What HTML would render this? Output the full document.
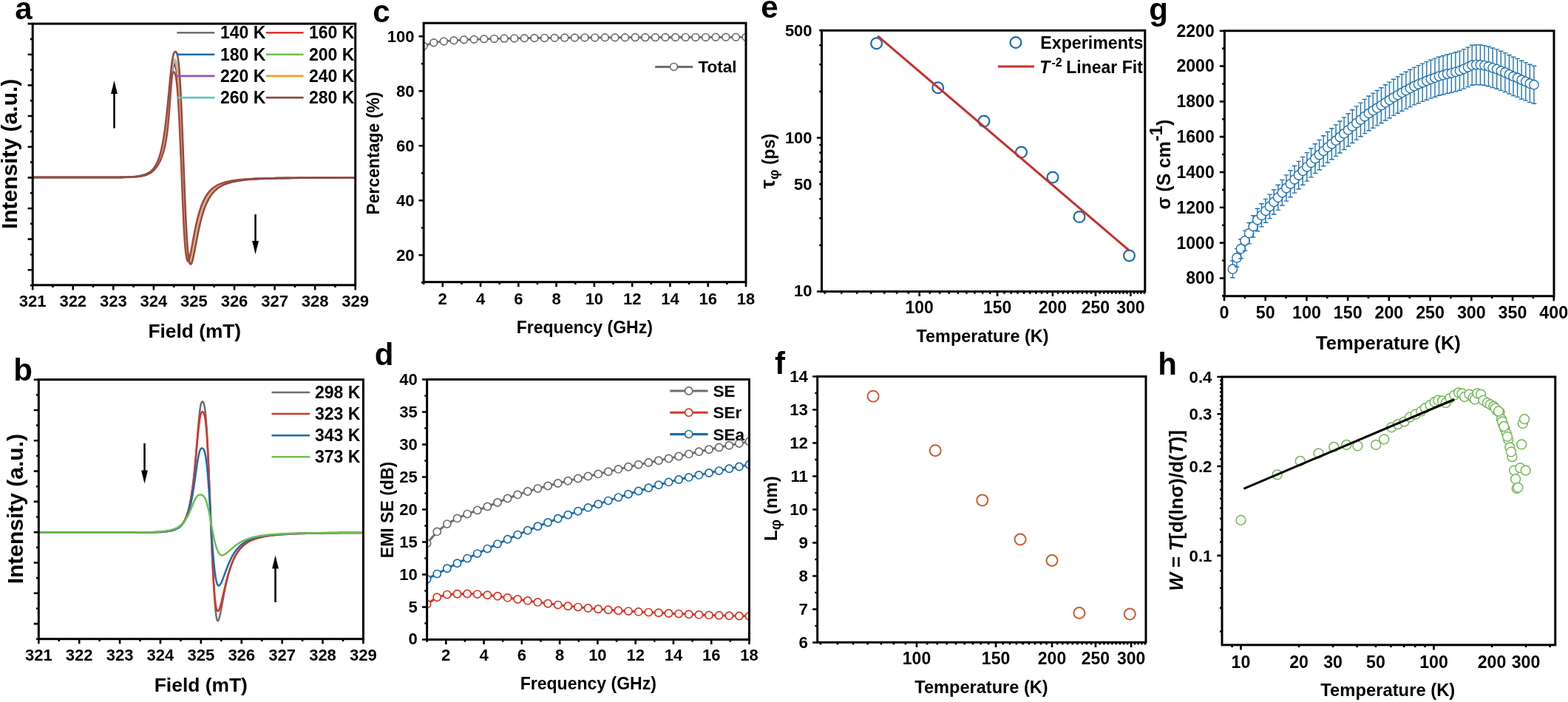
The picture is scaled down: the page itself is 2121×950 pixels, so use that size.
<!DOCTYPE html>
<html lang="en"><head><meta charset="utf-8"><title>Figure</title>
<style>
html,body{margin:0;padding:0;background:#fff;}
body{width:2121px;height:950px;overflow:hidden;}
svg{display:block;font-family:'Liberation Sans', Arial, Helvetica, sans-serif;font-weight:bold;}
text{white-space:pre;}
</style></head><body>
<svg width="2121" height="950" viewBox="0 0 2121 950">
<rect width="2121" height="950" fill="#fff"/>
<defs>
<clipPath id="ca"><rect x="44.2" y="32.1" width="436.5" height="353.7"/></clipPath>
<clipPath id="cc"><rect x="573.1" y="31.2" width="437.4" height="350.5"/></clipPath>
<clipPath id="cd"><rect x="577.6" y="513.5" width="437.4" height="352"/></clipPath>
</defs>
<text x="32" y="26" font-size="42" text-anchor="middle">a</text>
<g clip-path="url(#ca)">
<polyline points="44.2,240.1 49.2,240.1 54.2,240.1 59.2,240.1 64.2,240.1 69.2,240.1 74.2,240.1 79.2,240.1 84.2,240.1 89.2,240.1 94.2,240.1 99.2,240.1 104.2,240.1 109.2,240.1 114.2,240.1 119.2,240.1 124.2,240.1 129.2,240.1 134.2,240.1 139.2,240.1 144.2,240.1 149.2,240.1 154.2,240 159.2,240 164.2,239.9 169.2,239.8 174.2,239.7 179.2,239.4 184.2,239.1 186,238.9 186.5,238.8 187,238.8 187.5,238.7 188,238.6 188.5,238.6 189,238.5 189.5,238.4 190,238.3 190.5,238.3 191,238.2 191.5,238.1 192,238 192.5,237.9 193,237.8 193.5,237.6 194,237.5 194.5,237.4 195,237.3 195.5,237.1 196,237 196.5,236.8 197,236.7 197.5,236.5 198,236.3 198.5,236.1 199,235.9 199.5,235.7 200,235.5 200.5,235.2 201,235 201.5,234.7 202,234.4 202.5,234.1 203,233.8 203.5,233.5 204,233.1 204.5,232.8 205,232.4 205.5,232 206,231.6 206.5,231.1 207,230.6 207.5,230.1 208,229.6 208.5,229 209,228.4 209.5,227.8 210,227.2 210.5,226.5 211,225.8 211.5,225 212,224.2 212.5,223.4 213,222.5 213.5,221.6 214,220.6 214.5,219.5 215,218.5 215.5,217.3 216,216.1 216.5,214.9 217,213.5 217.5,212.1 218,210.7 218.5,209.1 219,207.5 219.5,205.7 220,203.9 220.5,201.9 221,199.8 221.5,197.6 222,195.3 222.5,192.8 223,190.1 223.5,187.2 224,184.1 224.5,180.8 225,177.3 225.5,173.5 226,169.4 226.5,165 227,160.4 227.5,155.4 228,150.1 228.5,144.6 229,138.8 229.5,132.8 230,126.8 230.5,120.7 231,114.8 231.5,109.2 232,104.1 232.5,99.6 233,95.9 233.5,93.1 234,91 234.5,89.7 235,89.1 235.5,88.9 236,89.1 236.5,89.6 237,90.4 237.5,91.5 238,93.1 238.5,95.2 239,97.9 239.5,101.4 240,105.7 240.5,110.8 241,116.9 241.5,124 242,132 242.5,140.9 243,150.7 243.5,161.2 244,172.4 244.5,184.1 245,196.1 245.5,208.3 246,220.6 246.5,232.7 247,245.2 247.5,258.5 248,271.2 248.5,283.1 249,294.2 249.5,304.3 250,313.5 250.5,321.6 251,328.8 251.5,335 252,340.2 252.5,344.5 253,348 253.5,350.6 254,352.5 254.5,353.7 255,354.4 255.5,354.4 256,354 256.5,353.1 257,351.8 257.5,350.2 258,348.3 258.5,346.2 259,343.9 259.5,341.5 260,339 260.5,336.3 261,333.7 261.5,331 262,328.2 262.5,325.5 263,322.8 263.5,320.2 264,317.6 264.5,315 265,312.5 265.5,310 266,307.6 266.5,305.3 267,303 267.5,300.9 268,298.8 268.5,296.7 269,294.7 269.5,292.8 270,291 270.5,289.2 271,287.5 271.5,285.9 272,284.3 272.5,282.8 273,281.4 273.5,280 274,278.6 274.5,277.3 275,276.1 275.5,274.9 276,273.7 276.5,272.6 277,271.6 277.5,270.6 278,269.6 278.5,268.6 279,267.7 279.5,266.9 280,266 280.5,265.2 281,264.5 281.5,263.7 282,263 282.5,262.3 283,261.7 283.5,261 284,260.4 284.5,259.8 285,259.3 285.5,258.7 286,258.2 286.5,257.7 287,257.2 287.5,256.7 288,256.3 288.5,255.8 289,255.4 289.5,255 290,254.6 290.5,254.2 291,253.9 291.5,253.5 292,253.2 292.5,252.8 293,252.5 293.5,252.2 294,251.9 294.5,251.6 295,251.3 295.5,251 296,250.8 296.5,250.5 297,250.3 297.5,250 298,249.8 298.5,249.6 299,249.4 299.5,249.2 300,249 300.5,248.8 301,248.6 301.5,248.4 302,248.2 302.5,248 303,247.9 303.5,247.7 304,247.5 304.5,247.4 305,247.2 305.5,247.1 306,246.9 311,245.7 316,244.7 321,244 326,243.4 331,242.9 336,242.6 341,242.2 346,242 351,241.8 356,241.6 361,241.4 366,241.3 371,241.2 376,241.1 381,241 386,240.9 391,240.8 396,240.8 401,240.7 406,240.7 411,240.6 416,240.6 421,240.6 426,240.5 431,240.5 436,240.5 441,240.5 446,240.4 451,240.4 456,240.4 461,240.4 466,240.4 471,240.3 476,240.3 480.7,240.3" fill="none" stroke="#6e6e6e" stroke-width="2.5" stroke-linejoin="round" stroke-linecap="round"/>
<polyline points="44.2,240.1 49.2,240.1 54.2,240.1 59.2,240.1 64.2,240.1 69.2,240.1 74.2,240.1 79.2,240.1 84.2,240.1 89.2,240.1 94.2,240.1 99.2,240.1 104.2,240.1 109.2,240.1 114.2,240.1 119.2,240.1 124.2,240.1 129.2,240.1 134.2,240.1 139.2,240.1 144.2,240.1 149.2,240.1 154.2,240 159.2,240 164.2,239.9 169.2,239.8 174.2,239.7 179.2,239.4 184.2,239 186,238.8 186.5,238.8 187,238.7 187.5,238.7 188,238.6 188.5,238.5 189,238.4 189.5,238.4 190,238.3 190.5,238.2 191,238.1 191.5,238 192,237.9 192.5,237.8 193,237.7 193.5,237.6 194,237.4 194.5,237.3 195,237.2 195.5,237 196,236.9 196.5,236.7 197,236.6 197.5,236.4 198,236.2 198.5,236 199,235.8 199.5,235.6 200,235.3 200.5,235.1 201,234.8 201.5,234.6 202,234.3 202.5,234 203,233.7 203.5,233.3 204,233 204.5,232.6 205,232.2 205.5,231.8 206,231.4 206.5,230.9 207,230.4 207.5,229.9 208,229.4 208.5,228.8 209,228.2 209.5,227.5 210,226.9 210.5,226.2 211,225.4 211.5,224.6 212,223.8 212.5,223 213,222 213.5,221.1 214,220.1 214.5,219 215,217.9 215.5,216.7 216,215.4 216.5,214.1 217,212.7 217.5,211.3 218,209.7 218.5,208.1 219,206.3 219.5,204.5 220,202.6 220.5,200.5 221,198.3 221.5,196 222,193.5 222.5,190.9 223,188.1 223.5,185.1 224,181.9 224.5,178.5 225,174.8 225.5,170.9 226,166.7 226.5,162.3 227,157.6 227.5,152.6 228,147.3 228.5,141.8 229,136.1 229.5,130.3 230,124.4 230.5,118.5 231,112.8 231.5,107.4 232,102.4 232.5,98 233,94.4 233.5,91.5 234,89.3 234.5,87.9 235,87 235.5,86.7 236,86.8 236.5,87.2 237,87.8 237.5,88.8 238,90.2 238.5,92.1 239,94.6 239.5,97.7 240,101.6 240.5,106.4 241,112.2 241.5,118.8 242,126.5 242.5,135.1 243,144.5 243.5,154.8 244,165.8 244.5,177.4 245,189.4 245.5,201.6 246,214 246.5,226.3 247,238.4 247.5,251.7 248,264.7 248.5,277 249,288.5 249.5,299.1 250,308.8 250.5,317.5 251,325.2 251.5,332 252,337.7 252.5,342.5 253,346.4 253.5,349.5 254,351.9 254.5,353.5 255,354.4 255.5,354.8 256,354.6 256.5,354 257,353 257.5,351.6 258,349.9 258.5,347.9 259,345.7 259.5,343.4 260,340.9 260.5,338.4 261,335.7 261.5,333 262,330.3 262.5,327.6 263,324.9 263.5,322.2 264,319.6 264.5,317 265,314.5 265.5,312 266,309.5 266.5,307.2 267,304.9 267.5,302.7 268,300.5 268.5,298.4 269,296.4 269.5,294.4 270,292.6 270.5,290.7 271,289 271.5,287.3 272,285.7 272.5,284.1 273,282.6 273.5,281.2 274,279.8 274.5,278.5 275,277.2 275.5,276 276,274.8 276.5,273.7 277,272.6 277.5,271.5 278,270.5 278.5,269.5 279,268.6 279.5,267.7 280,266.9 280.5,266 281,265.2 281.5,264.5 282,263.7 282.5,263 283,262.3 283.5,261.7 284,261.1 284.5,260.4 285,259.9 285.5,259.3 286,258.7 286.5,258.2 287,257.7 287.5,257.2 288,256.8 288.5,256.3 289,255.9 289.5,255.4 290,255 290.5,254.6 291,254.3 291.5,253.9 292,253.5 292.5,253.2 293,252.9 293.5,252.6 294,252.2 294.5,251.9 295,251.7 295.5,251.4 296,251.1 296.5,250.8 297,250.6 297.5,250.3 298,250.1 298.5,249.9 299,249.6 299.5,249.4 300,249.2 300.5,249 301,248.8 301.5,248.6 302,248.4 302.5,248.2 303,248.1 303.5,247.9 304,247.7 304.5,247.6 305,247.4 305.5,247.3 306,247.1 311,245.8 316,244.9 321,244.1 326,243.5 331,243 336,242.6 341,242.3 346,242 351,241.8 356,241.6 361,241.4 366,241.3 371,241.2 376,241.1 381,241 386,240.9 391,240.9 396,240.8 401,240.7 406,240.7 411,240.6 416,240.6 421,240.6 426,240.5 431,240.5 436,240.5 441,240.5 446,240.4 451,240.4 456,240.4 461,240.4 466,240.4 471,240.4 476,240.3 480.7,240.3" fill="none" stroke="#1c6cab" stroke-width="2.5" stroke-linejoin="round" stroke-linecap="round"/>
<polyline points="44.2,240.1 49.2,240.1 54.2,240.1 59.2,240.1 64.2,240.1 69.2,240.1 74.2,240.1 79.2,240.1 84.2,240.1 89.2,240.1 94.2,240.1 99.2,240.1 104.2,240.1 109.2,240.1 114.2,240.1 119.2,240.1 124.2,240.1 129.2,240.1 134.2,240.1 139.2,240.1 144.2,240.1 149.2,240.1 154.2,240 159.2,240 164.2,239.9 169.2,239.8 174.2,239.6 179.2,239.4 184.2,239 186,238.8 186.5,238.7 187,238.7 187.5,238.6 188,238.5 188.5,238.5 189,238.4 189.5,238.3 190,238.2 190.5,238.1 191,238 191.5,237.9 192,237.8 192.5,237.7 193,237.6 193.5,237.5 194,237.4 194.5,237.2 195,237.1 195.5,237 196,236.8 196.5,236.6 197,236.5 197.5,236.3 198,236.1 198.5,235.9 199,235.7 199.5,235.5 200,235.2 200.5,235 201,234.7 201.5,234.4 202,234.2 202.5,233.8 203,233.5 203.5,233.2 204,232.8 204.5,232.4 205,232 205.5,231.6 206,231.2 206.5,230.7 207,230.2 207.5,229.7 208,229.1 208.5,228.5 209,227.9 209.5,227.3 210,226.6 210.5,225.9 211,225.1 211.5,224.3 212,223.4 212.5,222.6 213,221.6 213.5,220.6 214,219.6 214.5,218.5 215,217.3 215.5,216.1 216,214.8 216.5,213.4 217,211.9 217.5,210.4 218,208.8 218.5,207.1 219,205.3 219.5,203.3 220,201.3 220.5,199.1 221,196.9 221.5,194.4 222,191.8 222.5,189.1 223,186.2 223.5,183.1 224,179.7 224.5,176.2 225,172.5 225.5,168.5 226,164.2 226.5,159.7 227,154.9 227.5,149.9 228,144.7 228.5,139.2 229,133.6 229.5,127.8 230,122.1 230.5,116.3 231,110.8 231.5,105.5 232,100.7 232.5,96.4 233,92.8 233.5,89.9 234,87.6 234.5,86.1 235,85.1 235.5,84.6 236,84.6 236.5,84.8 237,85.4 237.5,86.2 238,87.4 238.5,89.1 239,91.3 239.5,94.2 240,97.8 240.5,102.2 241,107.5 241.5,113.8 242,121.1 242.5,129.3 243,138.5 243.5,148.5 244,159.2 244.5,170.7 245,182.6 245.5,194.8 246,207.3 246.5,219.8 247,232.1 247.5,244.8 248,258.1 248.5,270.7 249,282.7 249.5,293.7 250,303.9 250.5,313.1 251,321.4 251.5,328.6 252,334.9 252.5,340.2 253,344.7 253.5,348.2 254,351 254.5,353 255,354.3 255.5,355 256,355.2 256.5,354.8 257,354 257.5,352.8 258,351.3 258.5,349.5 259,347.4 259.5,345.2 260,342.8 260.5,340.3 261,337.7 261.5,335.1 262,332.4 262.5,329.7 263,327 263.5,324.3 264,321.7 264.5,319 265,316.5 265.5,313.9 266,311.5 266.5,309.1 267,306.7 267.5,304.5 268,302.3 268.5,300.1 269,298.1 269.5,296.1 270,294.1 270.5,292.3 271,290.5 271.5,288.8 272,287.1 272.5,285.5 273,284 273.5,282.5 274,281.1 274.5,279.7 275,278.4 275.5,277.1 276,275.9 276.5,274.7 277,273.6 277.5,272.5 278,271.5 278.5,270.5 279,269.5 279.5,268.6 280,267.7 280.5,266.8 281,266 281.5,265.2 282,264.5 282.5,263.7 283,263 283.5,262.4 284,261.7 284.5,261.1 285,260.5 285.5,259.9 286,259.3 286.5,258.8 287,258.3 287.5,257.8 288,257.3 288.5,256.8 289,256.3 289.5,255.9 290,255.5 290.5,255.1 291,254.7 291.5,254.3 292,253.9 292.5,253.6 293,253.3 293.5,252.9 294,252.6 294.5,252.3 295,252 295.5,251.7 296,251.4 296.5,251.2 297,250.9 297.5,250.6 298,250.4 298.5,250.1 299,249.9 299.5,249.7 300,249.5 300.5,249.3 301,249.1 301.5,248.9 302,248.7 302.5,248.5 303,248.3 303.5,248.1 304,248 304.5,247.8 305,247.6 305.5,247.5 306,247.3 311,246 316,245 321,244.2 326,243.6 331,243.1 336,242.7 341,242.3 346,242.1 351,241.8 356,241.6 361,241.5 366,241.3 371,241.2 376,241.1 381,241 386,240.9 391,240.9 396,240.8 401,240.7 406,240.7 411,240.7 416,240.6 421,240.6 426,240.5 431,240.5 436,240.5 441,240.5 446,240.4 451,240.4 456,240.4 461,240.4 466,240.4 471,240.4 476,240.3 480.7,240.3" fill="none" stroke="#6fbf4f" stroke-width="2.5" stroke-linejoin="round" stroke-linecap="round"/>
<polyline points="44.2,240.1 49.2,240.1 54.2,240.1 59.2,240.1 64.2,240.1 69.2,240.1 74.2,240.1 79.2,240.1 84.2,240.1 89.2,240.1 94.2,240.1 99.2,240.1 104.2,240.1 109.2,240.1 114.2,240.1 119.2,240.1 124.2,240.1 129.2,240.1 134.2,240.1 139.2,240.1 144.2,240.1 149.2,240.1 154.2,240 159.2,240 164.2,239.9 169.2,239.8 174.2,239.7 179.2,239.4 184.2,239 186,238.8 186.5,238.8 187,238.7 187.5,238.6 188,238.6 188.5,238.5 189,238.4 189.5,238.3 190,238.3 190.5,238.2 191,238.1 191.5,238 192,237.9 192.5,237.8 193,237.7 193.5,237.5 194,237.4 194.5,237.3 195,237.1 195.5,237 196,236.8 196.5,236.7 197,236.5 197.5,236.3 198,236.1 198.5,235.9 199,235.7 199.5,235.5 200,235.3 200.5,235 201,234.8 201.5,234.5 202,234.2 202.5,233.9 203,233.6 203.5,233.3 204,232.9 204.5,232.5 205,232.1 205.5,231.7 206,231.3 206.5,230.8 207,230.3 207.5,229.8 208,229.2 208.5,228.7 209,228.1 209.5,227.4 210,226.7 210.5,226 211,225.3 211.5,224.5 212,223.6 212.5,222.7 213,221.8 213.5,220.8 214,219.8 214.5,218.7 215,217.6 215.5,216.4 216,215.1 216.5,213.7 217,212.3 217.5,210.8 218,209.2 218.5,207.6 219,205.8 219.5,203.9 220,201.9 220.5,199.8 221,197.6 221.5,195.2 222,192.7 222.5,190 223,187.1 223.5,184.1 224,180.8 224.5,177.3 225,173.6 225.5,169.7 226,165.5 226.5,161 227,156.2 227.5,151.2 228,146 228.5,140.5 229,134.8 229.5,129 230,123.2 230.5,117.4 231,111.8 231.5,106.4 232,101.6 232.5,97.2 233,93.6 233.5,90.7 234,88.5 234.5,87 235,86.1 235.5,85.7 236,85.7 236.5,86 237,86.6 237.5,87.5 238,88.8 238.5,90.6 239,92.9 239.5,95.9 240,99.7 240.5,104.3 241,109.8 241.5,116.3 242,123.8 242.5,132.2 243,141.5 243.5,151.6 244,162.5 244.5,174 245,186 245.5,198.3 246,210.7 246.5,223.1 247,235.3 247.5,248.3 248,261.4 248.5,273.9 249,285.6 249.5,296.5 250,306.4 250.5,315.4 251,323.3 251.5,330.3 252,336.3 252.5,341.4 253,345.6 253.5,348.9 254,351.4 254.5,353.2 255,354.4 255.5,354.9 256,354.9 256.5,354.4 257,353.5 257.5,352.2 258,350.6 258.5,348.7 259,346.6 259.5,344.3 260,341.9 260.5,339.3 261,336.7 261.5,334.1 262,331.4 262.5,328.7 263,326 263.5,323.3 264,320.6 264.5,318 265,315.5 265.5,313 266,310.5 266.5,308.1 267,305.8 267.5,303.6 268,301.4 268.5,299.3 269,297.2 269.5,295.2 270,293.3 270.5,291.5 271,289.7 271.5,288 272,286.4 272.5,284.8 273,283.3 273.5,281.8 274,280.4 274.5,279.1 275,277.8 275.5,276.5 276,275.3 276.5,274.2 277,273.1 277.5,272 278,271 278.5,270 279,269.1 279.5,268.1 280,267.3 280.5,266.4 281,265.6 281.5,264.8 282,264.1 282.5,263.4 283,262.7 283.5,262 284,261.4 284.5,260.8 285,260.2 285.5,259.6 286,259 286.5,258.5 287,258 287.5,257.5 288,257 288.5,256.6 289,256.1 289.5,255.7 290,255.3 290.5,254.9 291,254.5 291.5,254.1 292,253.7 292.5,253.4 293,253.1 293.5,252.7 294,252.4 294.5,252.1 295,251.8 295.5,251.5 296,251.3 296.5,251 297,250.7 297.5,250.5 298,250.2 298.5,250 299,249.8 299.5,249.6 300,249.3 300.5,249.1 301,248.9 301.5,248.7 302,248.5 302.5,248.4 303,248.2 303.5,248 304,247.8 304.5,247.7 305,247.5 305.5,247.4 306,247.2 311,245.9 316,244.9 321,244.2 326,243.5 331,243 336,242.6 341,242.3 346,242 351,241.8 356,241.6 361,241.5 366,241.3 371,241.2 376,241.1 381,241 386,240.9 391,240.9 396,240.8 401,240.7 406,240.7 411,240.6 416,240.6 421,240.6 426,240.5 431,240.5 436,240.5 441,240.5 446,240.4 451,240.4 456,240.4 461,240.4 466,240.4 471,240.4 476,240.3 480.7,240.3" fill="none" stroke="#9a4fb5" stroke-width="2.5" stroke-linejoin="round" stroke-linecap="round"/>
<polyline points="44.2,240.1 49.2,240.1 54.2,240.1 59.2,240.1 64.2,240.1 69.2,240.1 74.2,240.1 79.2,240.1 84.2,240.1 89.2,240.1 94.2,240.1 99.2,240.1 104.2,240.1 109.2,240.1 114.2,240.1 119.2,240.1 124.2,240.1 129.2,240.1 134.2,240.1 139.2,240.1 144.2,240.1 149.2,240.1 154.2,240 159.2,240 164.2,239.9 169.2,239.8 174.2,239.6 179.2,239.3 184.2,238.9 186,238.7 186.5,238.6 187,238.6 187.5,238.5 188,238.4 188.5,238.4 189,238.3 189.5,238.2 190,238.1 190.5,238 191,237.9 191.5,237.8 192,237.7 192.5,237.6 193,237.5 193.5,237.4 194,237.2 194.5,237.1 195,236.9 195.5,236.8 196,236.6 196.5,236.5 197,236.3 197.5,236.1 198,235.9 198.5,235.7 199,235.5 199.5,235.2 200,235 200.5,234.7 201,234.5 201.5,234.2 202,233.9 202.5,233.6 203,233.2 203.5,232.9 204,232.5 204.5,232.1 205,231.7 205.5,231.3 206,230.8 206.5,230.3 207,229.8 207.5,229.2 208,228.7 208.5,228.1 209,227.4 209.5,226.7 210,226 210.5,225.3 211,224.5 211.5,223.6 212,222.7 212.5,221.8 213,220.8 213.5,219.7 214,218.6 214.5,217.4 215,216.2 215.5,214.9 216,213.5 216.5,212 217,210.4 217.5,208.8 218,207 218.5,205.2 219,203.2 219.5,201.1 220,198.9 220.5,196.6 221,194.1 221.5,191.5 222,188.7 222.5,185.8 223,182.6 223.5,179.3 224,175.8 224.5,172 225,168.1 225.5,163.9 226,159.5 226.5,154.9 227,150 227.5,145 228,139.7 228.5,134.3 229,128.8 229.5,123.2 230,117.7 230.5,112.2 231,106.9 231.5,101.9 232,97.3 232.5,93.2 233,89.6 233.5,86.6 234,84.3 234.5,82.5 235,81.3 235.5,80.5 236,80.2 236.5,80.2 237,80.5 237.5,81.1 238,82 238.5,83.3 239,85.1 239.5,87.4 240,90.4 240.5,94.2 241,98.8 241.5,104.3 242,110.8 242.5,118.2 243,126.6 243.5,136 244,146.2 244.5,157.2 245,168.9 245.5,181 246,193.5 246.5,206.2 247,219 247.5,231.6 248,244.3 248.5,257.6 249,270.2 249.5,282.2 250,293.3 250.5,303.5 251,312.8 251.5,321.1 252,328.5 252.5,334.8 253,340.3 253.5,344.8 254,348.4 254.5,351.3 255,353.4 255.5,354.8 256,355.6 256.5,355.9 257,355.6 257.5,354.9 258,353.8 258.5,352.4 259,350.6 259.5,348.7 260,346.5 260.5,344.2 261,341.7 261.5,339.1 262,336.5 262.5,333.9 263,331.2 263.5,328.5 264,325.8 264.5,323.2 265,320.5 265.5,318 266,315.4 266.5,313 267,310.5 267.5,308.2 268,305.9 268.5,303.7 269,301.5 269.5,299.4 270,297.4 270.5,295.5 271,293.6 271.5,291.8 272,290 272.5,288.3 273,286.7 273.5,285.1 274,283.6 274.5,282.2 275,280.8 275.5,279.4 276,278.1 276.5,276.9 277,275.7 277.5,274.5 278,273.4 278.5,272.4 279,271.4 279.5,270.4 280,269.4 280.5,268.5 281,267.6 281.5,266.8 282,266 282.5,265.2 283,264.5 283.5,263.7 284,263 284.5,262.4 285,261.7 285.5,261.1 286,260.5 286.5,259.9 287,259.4 287.5,258.8 288,258.3 288.5,257.8 289,257.3 289.5,256.9 290,256.4 290.5,256 291,255.6 291.5,255.2 292,254.8 292.5,254.4 293,254 293.5,253.7 294,253.4 294.5,253 295,252.7 295.5,252.4 296,252.1 296.5,251.8 297,251.5 297.5,251.3 298,251 298.5,250.7 299,250.5 299.5,250.3 300,250 300.5,249.8 301,249.6 301.5,249.4 302,249.2 302.5,249 303,248.8 303.5,248.6 304,248.4 304.5,248.2 305,248.1 305.5,247.9 306,247.7 311,246.3 316,245.3 321,244.4 326,243.8 331,243.2 336,242.8 341,242.5 346,242.2 351,241.9 356,241.7 361,241.5 366,241.4 371,241.3 376,241.2 381,241.1 386,241 391,240.9 396,240.8 401,240.8 406,240.7 411,240.7 416,240.6 421,240.6 426,240.6 431,240.5 436,240.5 441,240.5 446,240.5 451,240.4 456,240.4 461,240.4 466,240.4 471,240.4 476,240.4 480.7,240.3" fill="none" stroke="#9fd0c0" stroke-width="2.5" stroke-linejoin="round" stroke-linecap="round"/>
<polyline points="44.2,240.1 49.2,240.1 54.2,240.1 59.2,240.1 64.2,240.1 69.2,240.1 74.2,240.1 79.2,240.1 84.2,240.1 89.2,240.1 94.2,240.1 99.2,240.1 104.2,240.1 109.2,240.1 114.2,240.1 119.2,240.1 124.2,240.1 129.2,240.1 134.2,240.1 139.2,240.1 144.2,240.1 149.2,240.1 154.2,240 159.2,240 164.2,239.9 169.2,239.8 174.2,239.6 179.2,239.4 184.2,239 186,238.8 186.5,238.7 187,238.7 187.5,238.6 188,238.5 188.5,238.4 189,238.4 189.5,238.3 190,238.2 190.5,238.1 191,238 191.5,237.9 192,237.8 192.5,237.7 193,237.6 193.5,237.5 194,237.3 194.5,237.2 195,237.1 195.5,236.9 196,236.8 196.5,236.6 197,236.4 197.5,236.2 198,236 198.5,235.8 199,235.6 199.5,235.4 200,235.2 200.5,234.9 201,234.7 201.5,234.4 202,234.1 202.5,233.8 203,233.5 203.5,233.1 204,232.7 204.5,232.4 205,232 205.5,231.5 206,231.1 206.5,230.6 207,230.1 207.5,229.6 208,229 208.5,228.4 209,227.8 209.5,227.1 210,226.4 210.5,225.7 211,224.9 211.5,224.1 212,223.3 212.5,222.4 213,221.4 213.5,220.4 214,219.3 214.5,218.2 215,217 215.5,215.7 216,214.4 216.5,213 217,211.5 217.5,210 218,208.3 218.5,206.6 219,204.7 219.5,202.8 220,200.7 220.5,198.5 221,196.2 221.5,193.7 222,191 222.5,188.2 223,185.3 223.5,182.1 224,178.7 224.5,175.1 225,171.3 225.5,167.3 226,163 226.5,158.4 227,153.7 227.5,148.6 228,143.4 228.5,137.9 229,132.4 229.5,126.7 230,120.9 230.5,115.3 231,109.8 231.5,104.6 232,99.9 232.5,95.6 233,92 233.5,89.1 234,86.8 234.5,85.2 235,84.1 235.5,83.6 236,83.5 236.5,83.6 237,84.1 237.5,84.9 238,86 238.5,87.6 239,89.7 239.5,92.4 240,95.9 240.5,100.1 241,105.3 241.5,111.4 242,118.4 242.5,126.5 243,135.5 243.5,145.3 244,156 244.5,167.3 245,179.2 245.5,191.4 246,203.9 246.5,216.4 247,228.9 247.5,241.2 248,254.7 248.5,267.5 249,279.6 249.5,290.9 250,301.4 250.5,310.8 251,319.3 251.5,326.9 252,333.4 252.5,339 253,343.7 253.5,347.5 254,350.4 254.5,352.6 255,354.2 255.5,355 256,355.3 256.5,355.1 257,354.5 257.5,353.4 258,352 258.5,350.2 259,348.3 259.5,346.1 260,343.8 260.5,341.3 261,338.7 261.5,336.1 262,333.5 262.5,330.8 263,328.1 263.5,325.4 264,322.7 264.5,320.1 265,317.5 265.5,314.9 266,312.5 266.5,310 267,307.7 267.5,305.4 268,303.2 268.5,301 269,298.9 269.5,296.9 270,294.9 270.5,293.1 271,291.2 271.5,289.5 272,287.8 272.5,286.2 273,284.6 273.5,283.1 274,281.7 274.5,280.3 275,279 275.5,277.7 276,276.4 276.5,275.2 277,274.1 277.5,273 278,271.9 278.5,270.9 279,270 279.5,269 280,268.1 280.5,267.2 281,266.4 281.5,265.6 282,264.8 282.5,264.1 283,263.4 283.5,262.7 284,262 284.5,261.4 285,260.8 285.5,260.2 286,259.6 286.5,259.1 287,258.5 287.5,258 288,257.5 288.5,257.1 289,256.6 289.5,256.1 290,255.7 290.5,255.3 291,254.9 291.5,254.5 292,254.2 292.5,253.8 293,253.4 293.5,253.1 294,252.8 294.5,252.5 295,252.2 295.5,251.9 296,251.6 296.5,251.3 297,251 297.5,250.8 298,250.5 298.5,250.3 299,250.1 299.5,249.8 300,249.6 300.5,249.4 301,249.2 301.5,249 302,248.8 302.5,248.6 303,248.4 303.5,248.2 304,248.1 304.5,247.9 305,247.7 305.5,247.6 306,247.4 311,246.1 316,245.1 321,244.3 326,243.6 331,243.1 336,242.7 341,242.4 346,242.1 351,241.9 356,241.7 361,241.5 366,241.4 371,241.2 376,241.1 381,241 386,240.9 391,240.9 396,240.8 401,240.8 406,240.7 411,240.7 416,240.6 421,240.6 426,240.6 431,240.5 436,240.5 441,240.5 446,240.4 451,240.4 456,240.4 461,240.4 466,240.4 471,240.4 476,240.3 480.7,240.3" fill="none" stroke="#e6b078" stroke-width="2.5" stroke-linejoin="round" stroke-linecap="round"/>
<polyline points="44.2,240.1 49.2,240.1 54.2,240.1 59.2,240.1 64.2,240.1 69.2,240.1 74.2,240.1 79.2,240.1 84.2,240.1 89.2,240.1 94.2,240.1 99.2,240.1 104.2,240.1 109.2,240.1 114.2,240.1 119.2,240.1 124.2,240.1 129.2,240.1 134.2,240.1 139.2,240.1 144.2,240.1 149.2,240.1 154.2,240.1 159.2,240 164.2,240 169.2,239.9 174.2,239.7 179.2,239.5 184.2,239.2 186,239 186.5,239 187,238.9 187.5,238.9 188,238.8 188.5,238.7 189,238.7 189.5,238.6 190,238.5 190.5,238.5 191,238.4 191.5,238.3 192,238.2 192.5,238.1 193,238 193.5,237.9 194,237.8 194.5,237.7 195,237.6 195.5,237.4 196,237.3 196.5,237.1 197,237 197.5,236.8 198,236.7 198.5,236.5 199,236.3 199.5,236.1 200,235.9 200.5,235.7 201,235.4 201.5,235.2 202,234.9 202.5,234.6 203,234.4 203.5,234.1 204,233.7 204.5,233.4 205,233 205.5,232.7 206,232.3 206.5,231.9 207,231.4 207.5,231 208,230.5 208.5,230 209,229.5 209.5,228.9 210,228.3 210.5,227.7 211,227.1 211.5,226.4 212,225.7 212.5,225 213,224.3 213.5,223.5 214,222.6 214.5,221.8 215,220.9 215.5,220 216,219 216.5,218 217,216.9 217.5,215.8 218,214.6 218.5,213.4 219,212.1 219.5,210.7 220,209.2 220.5,207.7 221,206.1 221.5,204.3 222,202.5 222.5,200.5 223,198.3 223.5,196 224,193.4 224.5,190.7 225,187.6 225.5,184.3 226,180.7 226.5,176.7 227,172.3 227.5,167.5 228,162.2 228.5,156.5 229,150.3 229.5,143.7 230,136.8 230.5,129.8 231,122.8 231.5,116.3 232,110.3 232.5,105.4 233,101.7 233.5,99.1 234,97.7 234.5,97.1 235,97.2 235.5,97.5 236,98.2 236.5,99.1 237,100.5 237.5,102.3 238,104.7 238.5,107.8 239,111.7 239.5,116.4 240,122 240.5,128.6 241,136.1 241.5,144.5 242,153.7 242.5,163.7 243,174.4 243.5,185.6 244,197.1 244.5,208.8 245,220.6 245.5,232.3 246,244.4 246.5,257.8 247,270.6 247.5,282.5 248,293.6 248.5,303.8 249,313 249.5,321.1 250,328.3 250.5,334.4 251,339.6 251.5,343.8 252,347.1 252.5,349.7 253,351.5 253.5,352.6 254,353.1 254.5,353 255,352.4 255.5,351.4 256,350 256.5,348.3 257,346.3 257.5,344.1 258,341.8 258.5,339.3 259,336.7 259.5,334 260,331.3 260.5,328.5 261,325.8 261.5,323.1 262,320.3 262.5,317.7 263,315.1 263.5,312.5 264,310 264.5,307.6 265,305.2 265.5,302.9 266,300.7 266.5,298.5 267,296.4 267.5,294.4 268,292.5 268.5,290.6 269,288.8 269.5,287.1 270,285.5 270.5,283.9 271,282.3 271.5,280.9 272,279.5 272.5,278.1 273,276.8 273.5,275.5 274,274.3 274.5,273.2 275,272.1 275.5,271 276,270 276.5,269 277,268.1 277.5,267.2 278,266.3 278.5,265.5 279,264.7 279.5,263.9 280,263.2 280.5,262.5 281,261.8 281.5,261.1 282,260.5 282.5,259.9 283,259.3 283.5,258.7 284,258.2 284.5,257.7 285,257.2 285.5,256.7 286,256.2 286.5,255.8 287,255.3 287.5,254.9 288,254.5 288.5,254.1 289,253.8 289.5,253.4 290,253.1 290.5,252.7 291,252.4 291.5,252.1 292,251.8 292.5,251.5 293,251.2 293.5,250.9 294,250.7 294.5,250.4 295,250.1 295.5,249.9 296,249.7 296.5,249.4 297,249.2 297.5,249 298,248.8 298.5,248.6 299,248.4 299.5,248.2 300,248.1 300.5,247.9 301,247.7 301.5,247.5 302,247.4 302.5,247.2 303,247.1 303.5,246.9 304,246.8 304.5,246.6 305,246.5 305.5,246.4 306,246.2 311,245.1 316,244.3 321,243.6 326,243.1 331,242.7 336,242.3 341,242 346,241.8 351,241.6 356,241.4 361,241.3 366,241.2 371,241.1 376,241 381,240.9 386,240.8 391,240.8 396,240.7 401,240.7 406,240.6 411,240.6 416,240.6 421,240.5 426,240.5 431,240.5 436,240.4 441,240.4 446,240.4 451,240.4 456,240.4 461,240.4 466,240.3 471,240.3 476,240.3 480.7,240.3" fill="none" stroke="#a5493f" stroke-width="2.5" stroke-linejoin="round" stroke-linecap="round"/>
<polyline points="44.2,240.1 49.2,240.1 54.2,240.1 59.2,240.1 64.2,240.1 69.2,240.1 74.2,240.1 79.2,240.1 84.2,240.1 89.2,240.1 94.2,240.1 99.2,240.1 104.2,240.1 109.2,240.1 114.2,240.1 119.2,240.1 124.2,240.1 129.2,240.1 134.2,240.1 139.2,240.1 144.2,240.1 149.2,240 154.2,240 159.2,239.9 164.2,239.8 169.2,239.7 174.2,239.5 179.2,239.2 184.2,238.7 186,238.5 186.5,238.4 187,238.3 187.5,238.3 188,238.2 188.5,238.1 189,238 189.5,237.9 190,237.8 190.5,237.7 191,237.6 191.5,237.5 192,237.4 192.5,237.3 193,237.1 193.5,237 194,236.8 194.5,236.7 195,236.5 195.5,236.4 196,236.2 196.5,236 197,235.8 197.5,235.6 198,235.4 198.5,235.2 199,234.9 199.5,234.7 200,234.4 200.5,234.2 201,233.9 201.5,233.6 202,233.2 202.5,232.9 203,232.5 203.5,232.2 204,231.8 204.5,231.3 205,230.9 205.5,230.4 206,229.9 206.5,229.4 207,228.8 207.5,228.2 208,227.6 208.5,227 209,226.3 209.5,225.5 210,224.8 210.5,223.9 211,223.1 211.5,222.1 212,221.1 212.5,220.1 213,219 213.5,217.8 214,216.6 214.5,215.3 215,213.8 215.5,212.4 216,210.8 216.5,209.1 217,207.3 217.5,205.4 218,203.4 218.5,201.3 219,199 219.5,196.6 220,194.1 220.5,191.4 221,188.5 221.5,185.5 222,182.3 222.5,179 223,175.4 223.5,171.6 224,167.7 224.5,163.5 225,159.2 225.5,154.7 226,150 226.5,145.1 227,140.1 227.5,134.9 228,129.6 228.5,124.3 229,118.9 229.5,113.6 230,108.3 230.5,103.2 231,98.3 231.5,93.7 232,89.4 232.5,85.4 233,82 233.5,78.9 234,76.4 234.5,74.3 235,72.6 235.5,71.4 236,70.6 236.5,70.1 237,69.8 237.5,69.9 238,70.2 238.5,70.8 239,71.7 239.5,73 240,74.8 240.5,77.2 241,80.2 241.5,84 242,88.7 242.5,94.3 243,100.8 243.5,108.4 244,116.9 244.5,126.5 245,136.9 245.5,148.1 246,160.1 246.5,172.6 247,185.5 247.5,198.7 248,212 248.5,225.2 249,238.2 249.5,251.5 250,264.4 250.5,276.7 251,288.2 251.5,298.8 252,308.6 252.5,317.4 253,325.3 253.5,332.2 254,338.2 254.5,343.3 255,347.5 255.5,350.9 256,353.6 256.5,355.5 257,356.8 257.5,357.4 258,357.6 258.5,357.3 259,356.5 259.5,355.4 260,353.9 260.5,352.2 261,350.2 261.5,348.1 262,345.8 262.5,343.3 263,340.8 263.5,338.2 264,335.6 264.5,333 265,330.3 265.5,327.7 266,325 266.5,322.4 267,319.9 267.5,317.4 268,314.9 268.5,312.5 269,310.1 269.5,307.8 270,305.6 270.5,303.5 271,301.4 271.5,299.3 272,297.4 272.5,295.5 273,293.6 273.5,291.9 274,290.2 274.5,288.5 275,286.9 275.5,285.4 276,283.9 276.5,282.5 277,281.1 277.5,279.8 278,278.5 278.5,277.3 279,276.1 279.5,275 280,273.9 280.5,272.9 281,271.9 281.5,270.9 282,269.9 282.5,269 283,268.2 283.5,267.3 284,266.5 284.5,265.8 285,265 285.5,264.3 286,263.6 286.5,262.9 287,262.3 287.5,261.7 288,261.1 288.5,260.5 289,259.9 289.5,259.4 290,258.9 290.5,258.4 291,257.9 291.5,257.4 292,257 292.5,256.5 293,256.1 293.5,255.7 294,255.3 294.5,254.9 295,254.5 295.5,254.2 296,253.8 296.5,253.5 297,253.2 297.5,252.9 298,252.6 298.5,252.3 299,252 299.5,251.7 300,251.4 300.5,251.2 301,250.9 301.5,250.7 302,250.4 302.5,250.2 303,250 303.5,249.8 304,249.6 304.5,249.4 305,249.2 305.5,249 306,248.8 311,247.2 316,245.9 321,245 326,244.2 331,243.6 336,243.1 341,242.7 346,242.4 351,242.1 356,241.9 361,241.7 366,241.5 371,241.4 376,241.3 381,241.2 386,241.1 391,241 396,240.9 401,240.9 406,240.8 411,240.7 416,240.7 421,240.7 426,240.6 431,240.6 436,240.5 441,240.5 446,240.5 451,240.5 456,240.4 461,240.4 466,240.4 471,240.4 476,240.4 480.7,240.4" fill="none" stroke="#8e4b44" stroke-width="2.5" stroke-linejoin="round" stroke-linecap="round"/>
</g>
<rect x="44.2" y="32.1" width="436.5" height="353.7" fill="none" stroke="#000" stroke-width="3"/>
<path d="M44.2 385.8v6.6M98.76 385.8v6.6M153.32 385.8v6.6M207.89 385.8v6.6M262.45 385.8v6.6M317.01 385.8v6.6M371.57 385.8v6.6M426.14 385.8v6.6M480.7 385.8v6.6M71.48 385.8v3.3M126.04 385.8v3.3M180.61 385.8v3.3M235.17 385.8v3.3M289.73 385.8v3.3M344.29 385.8v3.3M398.86 385.8v3.3M453.42 385.8v3.3" stroke="#000" stroke-width="2.6" fill="none"/>
<path d="M44.2 32.1h-6.6M44.2 73.75h-6.6M44.2 115.4h-6.6M44.2 157.05h-6.6M44.2 198.7h-6.6M44.2 240.35h-6.6M44.2 282h-6.6M44.2 323.65h-6.6M44.2 365.3h-6.6M44.2 52.92h-3.3M44.2 94.57h-3.3M44.2 136.22h-3.3M44.2 177.88h-3.3M44.2 219.52h-3.3M44.2 261.18h-3.3M44.2 302.82h-3.3M44.2 344.48h-3.3M44.2 386.12h-3.3" stroke="#000" stroke-width="2.6" fill="none"/>
<text x="44.2" y="415.4" font-size="22" text-anchor="middle">321</text>
<text x="98.76" y="415.4" font-size="22" text-anchor="middle">322</text>
<text x="153.32" y="415.4" font-size="22" text-anchor="middle">323</text>
<text x="207.89" y="415.4" font-size="22" text-anchor="middle">324</text>
<text x="262.45" y="415.4" font-size="22" text-anchor="middle">325</text>
<text x="317.01" y="415.4" font-size="22" text-anchor="middle">326</text>
<text x="371.57" y="415.4" font-size="22" text-anchor="middle">327</text>
<text x="426.14" y="415.4" font-size="22" text-anchor="middle">328</text>
<text x="480.7" y="415.4" font-size="22" text-anchor="middle">329</text>
<text x="263.3" y="456.5" font-size="26.3" text-anchor="middle">Field (mT)</text>
<text x="22.7" y="208.4" font-size="30" text-anchor="middle" transform="rotate(-90 22.7 208.4)">Intensity (a.u.)</text>
<line x1="239.3" y1="44.3" x2="290.3" y2="44.3" stroke="#6e6e6e" stroke-width="2.6"/>
<text x="298" y="52.4" font-size="23">140 K</text>
<line x1="359.7" y1="44.3" x2="410.6" y2="44.3" stroke="#d8352a" stroke-width="2.6"/>
<text x="418" y="52.4" font-size="23">160 K</text>
<line x1="239.3" y1="73.7" x2="290.3" y2="73.7" stroke="#1c6cab" stroke-width="2.6"/>
<text x="298" y="81.8" font-size="23">180 K</text>
<line x1="359.7" y1="73.7" x2="410.6" y2="73.7" stroke="#6fbf4f" stroke-width="2.6"/>
<text x="418" y="81.8" font-size="23">200 K</text>
<line x1="239.3" y1="102.9" x2="290.3" y2="102.9" stroke="#9a4fb5" stroke-width="2.6"/>
<text x="298" y="111" font-size="23">220 K</text>
<line x1="359.7" y1="102.9" x2="410.6" y2="102.9" stroke="#e6a21f" stroke-width="2.6"/>
<text x="418" y="111" font-size="23">240 K</text>
<line x1="239.3" y1="132.1" x2="290.3" y2="132.1" stroke="#62c6c2" stroke-width="2.6"/>
<text x="298" y="140.2" font-size="23">260 K</text>
<line x1="359.7" y1="132.1" x2="410.6" y2="132.1" stroke="#8e4b44" stroke-width="2.6"/>
<text x="418" y="140.2" font-size="23">280 K</text>
<line x1="154.5" y1="173.5" x2="154.5" y2="125.2" stroke="#000" stroke-width="2.5"/>
<polygon points="154.5,109 150.1,127 158.9,127" fill="#000"/>
<line x1="345.5" y1="290" x2="345.5" y2="327.8" stroke="#000" stroke-width="2.5"/>
<polygon points="345.5,344 341.1,326 349.9,326" fill="#000"/>
<text x="31" y="515" font-size="42" text-anchor="middle">b</text>
<polyline points="52.3,720.5 57.3,720.5 62.3,720.5 67.3,720.5 72.3,720.5 77.3,720.5 82.3,720.5 87.3,720.5 92.3,720.5 97.3,720.5 102.3,720.5 107.3,720.5 112.3,720.5 117.3,720.5 122.3,720.5 127.3,720.5 132.3,720.5 137.3,720.5 142.3,720.5 147.3,720.5 152.3,720.5 157.3,720.5 162.3,720.5 167.3,720.5 172.3,720.5 177.3,720.5 182.3,720.5 187.3,720.5 192.3,720.4 197.3,720.4 202.3,720.3 207.3,720.2 212.3,720.1 217.3,719.9 220,719.7 220.5,719.6 221,719.6 221.5,719.6 222,719.5 222.5,719.5 223,719.4 223.5,719.4 224,719.3 224.5,719.3 225,719.2 225.5,719.1 226,719.1 226.5,719 227,718.9 227.5,718.8 228,718.8 228.5,718.7 229,718.6 229.5,718.5 230,718.4 230.5,718.3 231,718.2 231.5,718.1 232,718 232.5,717.8 233,717.7 233.5,717.6 234,717.4 234.5,717.3 235,717.1 235.5,716.9 236,716.7 236.5,716.5 237,716.3 237.5,716.1 238,715.9 238.5,715.7 239,715.4 239.5,715.1 240,714.8 240.5,714.5 241,714.2 241.5,713.9 242,713.5 242.5,713.1 243,712.7 243.5,712.3 244,711.9 244.5,711.4 245,710.9 245.5,710.3 246,709.8 246.5,709.1 247,708.5 247.5,707.8 248,707.1 248.5,706.3 249,705.5 249.5,704.6 250,703.6 250.5,702.6 251,701.5 251.5,700.4 252,699.2 252.5,697.9 253,696.5 253.5,695 254,693.4 254.5,691.7 255,689.9 255.5,688 256,686 256.5,683.8 257,681.4 257.5,678.9 258,676.3 258.5,673.4 259,670.4 259.5,667.2 260,663.7 260.5,660.1 261,656.2 261.5,652.1 262,647.7 262.5,643.1 263,638.2 263.5,633.1 264,627.7 264.5,622.1 265,616.3 265.5,610.3 266,604.1 266.5,597.8 267,591.5 267.5,585.3 268,579.2 268.5,573.3 269,567.8 269.5,562.7 270,558.2 270.5,554.2 271,550.9 271.5,548.3 272,546.3 272.5,544.9 273,544 273.5,543.6 274,543.5 274.5,543.9 275,544.5 275.5,545.6 276,547.2 276.5,549.3 277,552.1 277.5,555.6 278,560 278.5,565.3 279,571.6 279.5,578.8 280,587 280.5,596.1 281,606 281.5,616.7 282,627.9 282.5,639.7 283,651.9 283.5,664.3 284,677 284.5,689.7 285,702.4 285.5,714.8 286,727 286.5,738.9 287,750.2 287.5,761 288,771.2 288.5,780.9 289,790 289.5,798.5 290,806.4 290.5,813.5 291,819.8 291.5,825.3 292,829.9 292.5,833.6 293,836.5 293.5,838.5 294,839.7 294.5,840.2 295,840 295.5,839.4 296,838.2 296.5,836.7 297,834.9 297.5,832.8 298,830.6 298.5,828.1 299,825.5 299.5,822.9 300,820.1 300.5,817.4 301,814.6 301.5,811.9 302,809.1 302.5,806.4 303,803.8 303.5,801.2 304,798.7 304.5,796.2 305,793.8 305.5,791.5 306,789.2 306.5,787 307,784.9 307.5,782.9 308,780.9 308.5,779 309,777.1 309.5,775.3 310,773.6 310.5,771.9 311,770.3 311.5,768.8 312,767.3 312.5,765.8 313,764.5 313.5,763.1 314,761.8 314.5,760.6 315,759.4 315.5,758.2 316,757.1 316.5,756 317,755 317.5,754 318,753 318.5,752.1 319,751.1 319.5,750.3 320,749.4 320.5,748.6 321,747.8 321.5,747.1 322,746.4 322.5,745.6 323,745 323.5,744.3 324,743.7 324.5,743.1 325,742.5 325.5,741.9 326,741.3 326.5,740.8 327,740.3 327.5,739.8 328,739.3 328.5,738.8 329,738.4 329.5,737.9 330,737.5 330.5,737.1 331,736.7 331.5,736.3 332,735.9 332.5,735.5 333,735.2 333.5,734.8 334,734.5 334.5,734.2 335,733.9 335.5,733.6 336,733.3 336.5,733 337,732.7 337.5,732.4 338,732.2 338.5,731.9 339,731.7 339.5,731.4 340,731.2 340.5,731 341,730.8 341.5,730.6 342,730.3 342.5,730.1 343,729.9 343.5,729.8 344,729.6 344.5,729.4 345,729.2 345.5,729 346,728.9 346.5,728.7 347,728.5 347.5,728.4 348,728.2 348.5,728.1 349,728 349.5,727.8 350,727.7 355,726.5 360,725.6 365,724.8 370,724.2 375,723.7 380,723.3 385,723 390,722.7 395,722.4 400,722.2 405,722.1 410,721.9 415,721.8 420,721.7 425,721.6 430,721.5 435,721.4 440,721.3 445,721.3 450,721.2 455,721.2 460,721.1 465,721.1 470,721 475,721 480,721 485,720.9 490,720.9 491.4,720.9" fill="none" stroke="#6e6e6e" stroke-width="2.5" stroke-linejoin="round" stroke-linecap="round"/>
<polyline points="52.3,720.5 57.3,720.5 62.3,720.5 67.3,720.5 72.3,720.5 77.3,720.5 82.3,720.5 87.3,720.5 92.3,720.5 97.3,720.5 102.3,720.5 107.3,720.5 112.3,720.5 117.3,720.5 122.3,720.5 127.3,720.5 132.3,720.5 137.3,720.5 142.3,720.5 147.3,720.5 152.3,720.5 157.3,720.5 162.3,720.5 167.3,720.5 172.3,720.5 177.3,720.5 182.3,720.5 187.3,720.5 192.3,720.4 197.3,720.4 202.3,720.3 207.3,720.2 212.3,720.1 217.3,719.9 220,719.7 220.5,719.6 221,719.6 221.5,719.6 222,719.5 222.5,719.5 223,719.4 223.5,719.4 224,719.3 224.5,719.3 225,719.2 225.5,719.1 226,719.1 226.5,719 227,718.9 227.5,718.8 228,718.8 228.5,718.7 229,718.6 229.5,718.5 230,718.4 230.5,718.3 231,718.2 231.5,718.1 232,718 232.5,717.8 233,717.7 233.5,717.6 234,717.4 234.5,717.3 235,717.1 235.5,716.9 236,716.7 236.5,716.5 237,716.3 237.5,716.1 238,715.9 238.5,715.7 239,715.4 239.5,715.1 240,714.8 240.5,714.5 241,714.2 241.5,713.9 242,713.5 242.5,713.1 243,712.7 243.5,712.3 244,711.9 244.5,711.4 245,710.9 245.5,710.3 246,709.8 246.5,709.1 247,708.5 247.5,707.8 248,707.1 248.5,706.3 249,705.5 249.5,704.6 250,703.6 250.5,702.6 251,701.5 251.5,700.4 252,699.2 252.5,697.9 253,696.5 253.5,695 254,693.4 254.5,691.8 255,690 255.5,688 256,686 256.5,683.8 257,681.5 257.5,679 258,676.3 258.5,673.5 259,670.5 259.5,667.3 260,663.9 260.5,660.3 261,656.5 261.5,652.5 262,648.2 262.5,643.7 263,639.1 263.5,634.2 264,629.1 264.5,623.8 265,618.4 265.5,612.9 266,607.3 266.5,601.7 267,596.2 267.5,590.8 268,585.6 268.5,580.7 269,576.1 269.5,572.1 270,568.5 270.5,565.4 271,562.8 271.5,560.8 272,559.3 272.5,558.3 273,557.6 273.5,557.3 274,557.2 274.5,557.5 275,558 275.5,558.8 276,560 276.5,561.6 277,563.7 277.5,566.5 278,569.9 278.5,574.1 279,579.2 279.5,585.3 280,592.2 280.5,600.1 281,609 281.5,618.7 282,629.2 282.5,640.5 283,652.3 283.5,664.5 284,677 284.5,689.7 285,702.4 285.5,714.8 286,727 286.5,738.9 287,750.1 287.5,760.7 288,770.6 288.5,779.7 289,787.9 289.5,795.3 290,801.9 290.5,807.6 291,812.5 291.5,816.6 292,819.9 292.5,822.5 293,824.5 293.5,825.9 294,826.7 294.5,827 295,826.9 295.5,826.4 296,825.7 296.5,824.7 297,823.4 297.5,822 298,820.4 298.5,818.6 299,816.7 299.5,814.8 300,812.7 300.5,810.6 301,808.5 301.5,806.3 302,804.1 302.5,801.9 303,799.8 303.5,797.6 304,795.5 304.5,793.3 305,791.3 305.5,789.2 306,787.2 306.5,785.2 307,783.3 307.5,781.5 308,779.6 308.5,777.9 309,776.1 309.5,774.5 310,772.8 310.5,771.3 311,769.7 311.5,768.3 312,766.8 312.5,765.4 313,764.1 313.5,762.8 314,761.5 314.5,760.3 315,759.1 315.5,758 316,756.9 316.5,755.8 317,754.8 317.5,753.8 318,752.9 318.5,752 319,751.1 319.5,750.2 320,749.4 320.5,748.6 321,747.8 321.5,747 322,746.3 322.5,745.6 323,744.9 323.5,744.3 324,743.6 324.5,743 325,742.4 325.5,741.9 326,741.3 326.5,740.8 327,740.3 327.5,739.8 328,739.3 328.5,738.8 329,738.3 329.5,737.9 330,737.5 330.5,737.1 331,736.7 331.5,736.3 332,735.9 332.5,735.5 333,735.2 333.5,734.8 334,734.5 334.5,734.2 335,733.9 335.5,733.6 336,733.3 336.5,733 337,732.7 337.5,732.4 338,732.2 338.5,731.9 339,731.7 339.5,731.4 340,731.2 340.5,731 341,730.8 341.5,730.6 342,730.3 342.5,730.1 343,729.9 343.5,729.8 344,729.6 344.5,729.4 345,729.2 345.5,729 346,728.9 346.5,728.7 347,728.5 347.5,728.4 348,728.2 348.5,728.1 349,728 349.5,727.8 350,727.7 355,726.5 360,725.6 365,724.8 370,724.2 375,723.7 380,723.3 385,723 390,722.7 395,722.4 400,722.2 405,722.1 410,721.9 415,721.8 420,721.7 425,721.6 430,721.5 435,721.4 440,721.3 445,721.3 450,721.2 455,721.2 460,721.1 465,721.1 470,721 475,721 480,721 485,720.9 490,720.9 491.4,720.9" fill="none" stroke="#d8352a" stroke-width="2.5" stroke-linejoin="round" stroke-linecap="round"/>
<polyline points="52.3,720.5 57.3,720.5 62.3,720.5 67.3,720.5 72.3,720.5 77.3,720.5 82.3,720.5 87.3,720.5 92.3,720.5 97.3,720.5 102.3,720.5 107.3,720.5 112.3,720.5 117.3,720.5 122.3,720.5 127.3,720.5 132.3,720.5 137.3,720.5 142.3,720.5 147.3,720.5 152.3,720.5 157.3,720.5 162.3,720.5 167.3,720.5 172.3,720.5 177.3,720.5 182.3,720.5 187.3,720.5 192.3,720.4 197.3,720.4 202.3,720.3 207.3,720.2 212.3,720 217.3,719.8 220,719.6 220.5,719.6 221,719.5 221.5,719.5 222,719.4 222.5,719.4 223,719.3 223.5,719.3 224,719.2 224.5,719.2 225,719.1 225.5,719.1 226,719 226.5,718.9 227,718.8 227.5,718.8 228,718.7 228.5,718.6 229,718.5 229.5,718.4 230,718.3 230.5,718.2 231,718.1 231.5,718 232,717.9 232.5,717.8 233,717.6 233.5,717.5 234,717.4 234.5,717.2 235,717.1 235.5,716.9 236,716.7 236.5,716.5 237,716.3 237.5,716.1 238,715.9 238.5,715.7 239,715.5 239.5,715.2 240,714.9 240.5,714.7 241,714.4 241.5,714 242,713.7 242.5,713.4 243,713 243.5,712.6 244,712.2 244.5,711.7 245,711.3 245.5,710.8 246,710.3 246.5,709.7 247,709.1 247.5,708.5 248,707.9 248.5,707.2 249,706.4 249.5,705.6 250,704.8 250.5,703.9 251,703 251.5,702 252,700.9 252.5,699.8 253,698.6 253.5,697.4 254,696 254.5,694.6 255,693.1 255.5,691.5 256,689.8 256.5,688 257,686.1 257.5,684.1 258,681.9 258.5,679.7 259,677.3 259.5,674.8 260,672.1 260.5,669.4 261,666.5 261.5,663.4 262,660.3 262.5,657 263,653.6 263.5,650.2 264,646.6 264.5,643.1 265,639.5 265.5,635.9 266,632.4 266.5,628.9 267,625.6 267.5,622.5 268,619.6 268.5,617 269,614.7 269.5,612.6 270,610.9 270.5,609.5 271,608.4 271.5,607.6 272,607 272.5,606.7 273,606.5 273.5,606.5 274,606.7 274.5,607 275,607.6 275.5,608.3 276,609.3 276.5,610.5 277,612.1 277.5,614.1 278,616.6 278.5,619.5 279,623 279.5,627 280,631.6 280.5,636.7 281,642.4 281.5,648.6 282,655.3 282.5,662.4 283,669.9 283.5,677.6 284,685.6 284.5,693.7 285,701.8 285.5,709.9 286,717.9 286.5,725.6 287,732.9 287.5,739.9 288,746.6 288.5,752.8 289,758.6 289.5,763.9 290,768.8 290.5,773.1 291,777 291.5,780.4 292,783.3 292.5,785.8 293,787.8 293.5,789.4 294,790.7 294.5,791.6 295,792.2 295.5,792.5 296,792.5 296.5,792.3 297,791.9 297.5,791.4 298,790.7 298.5,789.9 299,789 299.5,788 300,786.9 300.5,785.7 301,784.5 301.5,783.3 302,782 302.5,780.6 303,779.3 303.5,778 304,776.6 304.5,775.2 305,773.9 305.5,772.5 306,771.2 306.5,769.9 307,768.6 307.5,767.3 308,766.1 308.5,764.8 309,763.6 309.5,762.4 310,761.3 310.5,760.2 311,759.1 311.5,758 312,757 312.5,756 313,755 313.5,754 314,753.1 314.5,752.2 315,751.3 315.5,750.5 316,749.6 316.5,748.8 317,748.1 317.5,747.3 318,746.6 318.5,745.9 319,745.2 319.5,744.5 320,743.9 320.5,743.3 321,742.7 321.5,742.1 322,741.5 322.5,741 323,740.4 323.5,739.9 324,739.4 324.5,738.9 325,738.5 325.5,738 326,737.6 326.5,737.1 327,736.7 327.5,736.3 328,735.9 328.5,735.6 329,735.2 329.5,734.9 330,734.5 330.5,734.2 331,733.9 331.5,733.5 332,733.2 332.5,732.9 333,732.7 333.5,732.4 334,732.1 334.5,731.9 335,731.6 335.5,731.4 336,731.1 336.5,730.9 337,730.7 337.5,730.4 338,730.2 338.5,730 339,729.8 339.5,729.6 340,729.4 340.5,729.2 341,729.1 341.5,728.9 342,728.7 342.5,728.5 343,728.4 343.5,728.2 344,728.1 344.5,727.9 345,727.8 345.5,727.6 346,727.5 346.5,727.4 347,727.2 347.5,727.1 348,727 348.5,726.9 349,726.7 349.5,726.6 350,726.5 355,725.5 360,724.7 365,724.1 370,723.6 375,723.2 380,722.9 385,722.6 390,722.3 395,722.1 400,722 405,721.8 410,721.7 415,721.6 420,721.5 425,721.4 430,721.3 435,721.2 440,721.2 445,721.1 450,721.1 455,721 460,721 465,721 470,720.9 475,720.9 480,720.9 485,720.9 490,720.8 491.4,720.8" fill="none" stroke="#1c6cab" stroke-width="2.5" stroke-linejoin="round" stroke-linecap="round"/>
<polyline points="52.3,720.5 57.3,720.5 62.3,720.5 67.3,720.5 72.3,720.5 77.3,720.5 82.3,720.5 87.3,720.5 92.3,720.5 97.3,720.5 102.3,720.5 107.3,720.5 112.3,720.5 117.3,720.5 122.3,720.5 127.3,720.5 132.3,720.5 137.3,720.5 142.3,720.5 147.3,720.5 152.3,720.5 157.3,720.5 162.3,720.5 167.3,720.5 172.3,720.4 177.3,720.4 182.3,720.4 187.3,720.3 192.3,720.3 197.3,720.2 202.3,720.1 207.3,719.9 212.3,719.7 217.3,719.3 220,719.1 220.5,719 221,719 221.5,718.9 222,718.9 222.5,718.8 223,718.7 223.5,718.7 224,718.6 224.5,718.5 225,718.4 225.5,718.4 226,718.3 226.5,718.2 227,718.1 227.5,718 228,717.9 228.5,717.8 229,717.7 229.5,717.6 230,717.5 230.5,717.4 231,717.3 231.5,717.1 232,717 232.5,716.9 233,716.7 233.5,716.6 234,716.4 234.5,716.2 235,716.1 235.5,715.9 236,715.7 236.5,715.5 237,715.3 237.5,715.1 238,714.8 238.5,714.6 239,714.4 239.5,714.1 240,713.8 240.5,713.5 241,713.3 241.5,712.9 242,712.6 242.5,712.3 243,711.9 243.5,711.5 244,711.2 244.5,710.7 245,710.3 245.5,709.9 246,709.4 246.5,708.9 247,708.4 247.5,707.9 248,707.3 248.5,706.7 249,706.1 249.5,705.4 250,704.8 250.5,704.1 251,703.3 251.5,702.6 252,701.8 252.5,700.9 253,700.1 253.5,699.2 254,698.2 254.5,697.3 255,696.3 255.5,695.2 256,694.2 256.5,693.1 257,691.9 257.5,690.8 258,689.6 258.5,688.4 259,687.2 259.5,686 260,684.7 260.5,683.5 261,682.3 261.5,681.1 262,679.9 262.5,678.8 263,677.6 263.5,676.6 264,675.6 264.5,674.7 265,673.8 265.5,673 266,672.3 266.5,671.7 267,671.2 267.5,670.7 268,670.4 268.5,670.1 269,669.9 269.5,669.7 270,669.6 270.5,669.5 271,669.5 271.5,669.5 272,669.6 272.5,669.7 273,669.9 273.5,670.1 274,670.4 274.5,670.7 275,671.1 275.5,671.6 276,672.2 276.5,672.9 277,673.7 277.5,674.7 278,675.7 278.5,676.9 279,678.3 279.5,679.8 280,681.5 280.5,683.3 281,685.2 281.5,687.3 282,689.5 282.5,691.9 283,694.3 283.5,696.8 284,699.5 284.5,702.2 285,704.9 285.5,707.7 286,710.5 286.5,713.3 287,716 287.5,718.8 288,721.4 288.5,723.9 289,726.2 289.5,728.5 290,730.8 290.5,732.9 291,734.9 291.5,736.8 292,738.5 292.5,740.2 293,741.7 293.5,743.1 294,744.4 294.5,745.6 295,746.6 295.5,747.6 296,748.4 296.5,749.1 297,749.7 297.5,750.2 298,750.6 298.5,750.9 299,751.1 299.5,751.3 300,751.4 300.5,751.4 301,751.4 301.5,751.3 302,751.1 302.5,751 303,750.8 303.5,750.5 304,750.2 304.5,749.9 305,749.6 305.5,749.3 306,748.9 306.5,748.5 307,748.1 307.5,747.7 308,747.3 308.5,746.9 309,746.4 309.5,746 310,745.6 310.5,745.1 311,744.7 311.5,744.2 312,743.8 312.5,743.3 313,742.9 313.5,742.4 314,742 314.5,741.6 315,741.2 315.5,740.7 316,740.3 316.5,739.9 317,739.5 317.5,739.1 318,738.7 318.5,738.3 319,738 319.5,737.6 320,737.2 320.5,736.9 321,736.5 321.5,736.2 322,735.8 322.5,735.5 323,735.2 323.5,734.9 324,734.6 324.5,734.3 325,734 325.5,733.7 326,733.4 326.5,733.1 327,732.9 327.5,732.6 328,732.4 328.5,732.1 329,731.9 329.5,731.6 330,731.4 330.5,731.2 331,731 331.5,730.7 332,730.5 332.5,730.3 333,730.1 333.5,729.9 334,729.7 334.5,729.6 335,729.4 335.5,729.2 336,729 336.5,728.8 337,728.7 337.5,728.5 338,728.4 338.5,728.2 339,728.1 339.5,727.9 340,727.8 340.5,727.6 341,727.5 341.5,727.4 342,727.2 342.5,727.1 343,727 343.5,726.9 344,726.8 344.5,726.6 345,726.5 345.5,726.4 346,726.3 346.5,726.2 347,726.1 347.5,726 348,725.9 348.5,725.8 349,725.7 349.5,725.6 350,725.5 355,724.7 360,724.1 365,723.6 370,723.2 375,722.8 380,722.5 385,722.3 390,722.1 395,721.9 400,721.8 405,721.6 410,721.5 415,721.4 420,721.3 425,721.3 430,721.2 435,721.1 440,721.1 445,721 450,721 455,721 460,720.9 465,720.9 470,720.9 475,720.9 480,720.8 485,720.8 490,720.8 491.4,720.8" fill="none" stroke="#6fbf4f" stroke-width="2.5" stroke-linejoin="round" stroke-linecap="round"/>
<rect x="52.3" y="513.7" width="439.1" height="351" fill="none" stroke="#000" stroke-width="3"/>
<path d="M52.3 864.7v6.6M107.19 864.7v6.6M162.07 864.7v6.6M216.96 864.7v6.6M271.85 864.7v6.6M326.74 864.7v6.6M381.62 864.7v6.6M436.51 864.7v6.6M491.4 864.7v6.6M79.74 864.7v3.3M134.63 864.7v3.3M189.52 864.7v3.3M244.41 864.7v3.3M299.29 864.7v3.3M354.18 864.7v3.3M409.07 864.7v3.3M463.96 864.7v3.3" stroke="#000" stroke-width="2.6" fill="none"/>
<path d="M52.3 513.7h-6.6M52.3 555h-6.6M52.3 596.3h-6.6M52.3 637.6h-6.6M52.3 678.9h-6.6M52.3 720.2h-6.6M52.3 761.5h-6.6M52.3 802.8h-6.6M52.3 844.1h-6.6M52.3 534.35h-3.3M52.3 575.65h-3.3M52.3 616.95h-3.3M52.3 658.25h-3.3M52.3 699.55h-3.3M52.3 740.85h-3.3M52.3 782.15h-3.3M52.3 823.45h-3.3M52.3 864.75h-3.3" stroke="#000" stroke-width="2.6" fill="none"/>
<text x="52.3" y="894.4" font-size="22" text-anchor="middle">321</text>
<text x="107.19" y="894.4" font-size="22" text-anchor="middle">322</text>
<text x="162.07" y="894.4" font-size="22" text-anchor="middle">323</text>
<text x="216.96" y="894.4" font-size="22" text-anchor="middle">324</text>
<text x="271.85" y="894.4" font-size="22" text-anchor="middle">325</text>
<text x="326.74" y="894.4" font-size="22" text-anchor="middle">326</text>
<text x="381.62" y="894.4" font-size="22" text-anchor="middle">327</text>
<text x="436.51" y="894.4" font-size="22" text-anchor="middle">328</text>
<text x="491.4" y="894.4" font-size="22" text-anchor="middle">329</text>
<text x="271.8" y="936.2" font-size="26.4" text-anchor="middle">Field (mT)</text>
<text x="31.5" y="688.7" font-size="30" text-anchor="middle" transform="rotate(-90 31.5 688.7)">Intensity (a.u.)</text>
<line x1="367.5" y1="531" x2="419" y2="531" stroke="#6e6e6e" stroke-width="2.5"/>
<text x="426" y="539.1" font-size="23">298 K</text>
<line x1="367.5" y1="560.1" x2="419" y2="560.1" stroke="#d8352a" stroke-width="2.5"/>
<text x="426" y="568.2" font-size="23">323 K</text>
<line x1="367.5" y1="589.2" x2="419" y2="589.2" stroke="#1c6cab" stroke-width="2.5"/>
<text x="426" y="597.3" font-size="23">343 K</text>
<line x1="367.5" y1="618.3" x2="419" y2="618.3" stroke="#6fbf4f" stroke-width="2.5"/>
<text x="426" y="626.4" font-size="23">373 K</text>
<line x1="195.5" y1="600" x2="195.5" y2="638.3" stroke="#000" stroke-width="2.5"/>
<polygon points="195.5,654.5 191.1,636.5 199.9,636.5" fill="#000"/>
<line x1="372.5" y1="815" x2="372.5" y2="767.7" stroke="#000" stroke-width="2.5"/>
<polygon points="372.5,751.5 368.1,769.5 376.9,769.5" fill="#000"/>
<text x="516" y="30" font-size="42" text-anchor="middle">c</text>
<g clip-path="url(#cc)">
<polyline points="573.1,62.2 586.7,57.7 600.3,55.9 614,54.8 627.6,53.8 641.2,53.2 654.8,52.8 668.5,52.4 682.1,52.1 695.7,51.9 709.3,51.7 722.9,51.5 736.6,51.4 750.2,51.3 763.8,51.1 777.4,51 791,50.9 804.7,50.9 818.3,50.8 831.9,50.7 845.5,50.7 859.2,50.6 872.8,50.6 886.4,50.6 900,50.5 913.6,50.5 927.3,50.4 940.9,50.4 954.5,50.4 968.1,50.3 981.8,50.3 995.4,50.3 1009,50.2" fill="none" stroke="#6e6e6e" stroke-width="2.8" stroke-linejoin="round" stroke-linecap="round"/>
<g fill="#fff" stroke="#6e6e6e" stroke-width="1.7">
<circle cx="573.1" cy="62.2" r="4.9"/><circle cx="586.7" cy="57.7" r="4.9"/><circle cx="600.3" cy="55.9" r="4.9"/><circle cx="614" cy="54.8" r="4.9"/><circle cx="627.6" cy="53.8" r="4.9"/><circle cx="641.2" cy="53.2" r="4.9"/><circle cx="654.8" cy="52.8" r="4.9"/><circle cx="668.5" cy="52.4" r="4.9"/><circle cx="682.1" cy="52.1" r="4.9"/><circle cx="695.7" cy="51.9" r="4.9"/><circle cx="709.3" cy="51.7" r="4.9"/><circle cx="722.9" cy="51.5" r="4.9"/><circle cx="736.6" cy="51.4" r="4.9"/><circle cx="750.2" cy="51.3" r="4.9"/><circle cx="763.8" cy="51.1" r="4.9"/><circle cx="777.4" cy="51" r="4.9"/><circle cx="791" cy="50.9" r="4.9"/><circle cx="804.7" cy="50.9" r="4.9"/><circle cx="818.3" cy="50.8" r="4.9"/><circle cx="831.9" cy="50.7" r="4.9"/><circle cx="845.5" cy="50.7" r="4.9"/><circle cx="859.2" cy="50.6" r="4.9"/><circle cx="872.8" cy="50.6" r="4.9"/><circle cx="886.4" cy="50.6" r="4.9"/><circle cx="900" cy="50.5" r="4.9"/><circle cx="913.6" cy="50.5" r="4.9"/><circle cx="927.3" cy="50.4" r="4.9"/><circle cx="940.9" cy="50.4" r="4.9"/><circle cx="954.5" cy="50.4" r="4.9"/><circle cx="968.1" cy="50.3" r="4.9"/><circle cx="981.8" cy="50.3" r="4.9"/><circle cx="995.4" cy="50.3" r="4.9"/><circle cx="1009" cy="50.2" r="4.9"/>
</g>
</g>
<rect x="573.1" y="31.2" width="435.9" height="350.5" fill="none" stroke="#000" stroke-width="3"/>
<path d="M598.74 381.7v6.6M650.02 381.7v6.6M701.31 381.7v6.6M752.59 381.7v6.6M803.87 381.7v6.6M855.15 381.7v6.6M906.44 381.7v6.6M957.72 381.7v6.6M1009 381.7v6.6M573.1 381.7v3.3M624.38 381.7v3.3M675.66 381.7v3.3M726.95 381.7v3.3M778.23 381.7v3.3M829.51 381.7v3.3M880.79 381.7v3.3M932.08 381.7v3.3M983.36 381.7v3.3" stroke="#000" stroke-width="2.6" fill="none"/>
<path d="M573.1 49.2h-6.6M573.1 123.2h-6.6M573.1 197.2h-6.6M573.1 271.2h-6.6M573.1 345.2h-6.6M573.1 86.2h-3.3M573.1 160.2h-3.3M573.1 234.2h-3.3M573.1 308.2h-3.3M573.1 382.2h-3.3" stroke="#000" stroke-width="2.6" fill="none"/>
<text x="598.74" y="412.4" font-size="22" text-anchor="middle">2</text>
<text x="650.02" y="412.4" font-size="22" text-anchor="middle">4</text>
<text x="701.31" y="412.4" font-size="22" text-anchor="middle">6</text>
<text x="752.59" y="412.4" font-size="22" text-anchor="middle">8</text>
<text x="803.87" y="412.4" font-size="22" text-anchor="middle">10</text>
<text x="855.15" y="412.4" font-size="22" text-anchor="middle">12</text>
<text x="906.44" y="412.4" font-size="22" text-anchor="middle">14</text>
<text x="957.72" y="412.4" font-size="22" text-anchor="middle">16</text>
<text x="1009" y="412.4" font-size="22" text-anchor="middle">18</text>
<text x="560.5" y="57" font-size="22" text-anchor="end">100</text>
<text x="560.5" y="131" font-size="22" text-anchor="end">80</text>
<text x="560.5" y="205" font-size="22" text-anchor="end">60</text>
<text x="560.5" y="279" font-size="22" text-anchor="end">40</text>
<text x="560.5" y="353" font-size="22" text-anchor="end">20</text>
<text x="790.8" y="451" font-size="23" text-anchor="middle">Frequency (GHz)</text>
<text x="513" y="207.5" font-size="23" text-anchor="middle" transform="rotate(-90 513 207.5)">Percentage (%)</text>
<line x1="886.2" y1="90.4" x2="937.2" y2="90.4" stroke="#6e6e6e" stroke-width="3"/>
<g fill="#fff" stroke="#6e6e6e" stroke-width="1.7">
<circle cx="911.5" cy="90.4" r="4.9"/>
</g>
<text x="944.5" y="98.3" font-size="22.5">Total</text>
<text x="519.5" y="494" font-size="42" text-anchor="middle">d</text>
<g clip-path="url(#cd)">
<polyline points="577.6,817.5 591.2,808.3 604.8,804.6 618.5,803.7 632.1,803.5 645.7,804.1 659.3,805.2 673,806.8 686.6,808.9 700.2,811 713.8,812.9 727.4,814.9 741.1,816.8 754.7,818.6 768.3,820.2 781.9,821.6 795.5,823 809.2,824.2 822.8,825.3 836.4,826.2 850,827.1 863.7,827.9 877.3,828.6 890.9,829.3 904.5,830 918.1,830.6 931.8,831.3 945.4,831.9 959,832.4 972.6,832.8 986.3,833.2 999.9,833.5 1013.5,833.8" fill="none" stroke="#d8352a" stroke-width="3" stroke-linejoin="round" stroke-linecap="round"/>
<g fill="#fff" stroke="#d8352a" stroke-width="1.7">
<circle cx="577.6" cy="817.5" r="5.1"/><circle cx="591.2" cy="808.3" r="5.1"/><circle cx="604.8" cy="804.6" r="5.1"/><circle cx="618.5" cy="803.7" r="5.1"/><circle cx="632.1" cy="803.5" r="5.1"/><circle cx="645.7" cy="804.1" r="5.1"/><circle cx="659.3" cy="805.2" r="5.1"/><circle cx="673" cy="806.8" r="5.1"/><circle cx="686.6" cy="808.9" r="5.1"/><circle cx="700.2" cy="811" r="5.1"/><circle cx="713.8" cy="812.9" r="5.1"/><circle cx="727.4" cy="814.9" r="5.1"/><circle cx="741.1" cy="816.8" r="5.1"/><circle cx="754.7" cy="818.6" r="5.1"/><circle cx="768.3" cy="820.2" r="5.1"/><circle cx="781.9" cy="821.6" r="5.1"/><circle cx="795.5" cy="823" r="5.1"/><circle cx="809.2" cy="824.2" r="5.1"/><circle cx="822.8" cy="825.3" r="5.1"/><circle cx="836.4" cy="826.2" r="5.1"/><circle cx="850" cy="827.1" r="5.1"/><circle cx="863.7" cy="827.9" r="5.1"/><circle cx="877.3" cy="828.6" r="5.1"/><circle cx="890.9" cy="829.3" r="5.1"/><circle cx="904.5" cy="830" r="5.1"/><circle cx="918.1" cy="830.6" r="5.1"/><circle cx="931.8" cy="831.3" r="5.1"/><circle cx="945.4" cy="831.9" r="5.1"/><circle cx="959" cy="832.4" r="5.1"/><circle cx="972.6" cy="832.8" r="5.1"/><circle cx="986.3" cy="833.2" r="5.1"/><circle cx="999.9" cy="833.5" r="5.1"/><circle cx="1013.5" cy="833.8" r="5.1"/>
</g>
<polyline points="577.6,783.7 591.2,776.6 604.8,769.2 618.5,762.3 632.1,755.6 645.7,749.1 659.3,742.6 673,736.1 686.6,729.8 700.2,723.6 713.8,717.8 727.4,712.3 741.1,707 754.7,701.8 768.3,696.8 781.9,691.8 795.5,686.9 809.2,682.2 822.8,677.6 836.4,673.1 850,668.7 863.7,664.5 877.3,660.3 890.9,656.3 904.5,652.4 918.1,649 931.8,645.9 945.4,642.9 959,640 972.6,637.1 986.3,634.3 999.9,631.5 1013.5,628.8" fill="none" stroke="#1c6cab" stroke-width="3" stroke-linejoin="round" stroke-linecap="round"/>
<g fill="#fff" stroke="#1c6cab" stroke-width="1.7">
<circle cx="577.6" cy="783.7" r="5.1"/><circle cx="591.2" cy="776.6" r="5.1"/><circle cx="604.8" cy="769.2" r="5.1"/><circle cx="618.5" cy="762.3" r="5.1"/><circle cx="632.1" cy="755.6" r="5.1"/><circle cx="645.7" cy="749.1" r="5.1"/><circle cx="659.3" cy="742.6" r="5.1"/><circle cx="673" cy="736.1" r="5.1"/><circle cx="686.6" cy="729.8" r="5.1"/><circle cx="700.2" cy="723.6" r="5.1"/><circle cx="713.8" cy="717.8" r="5.1"/><circle cx="727.4" cy="712.3" r="5.1"/><circle cx="741.1" cy="707" r="5.1"/><circle cx="754.7" cy="701.8" r="5.1"/><circle cx="768.3" cy="696.8" r="5.1"/><circle cx="781.9" cy="691.8" r="5.1"/><circle cx="795.5" cy="686.9" r="5.1"/><circle cx="809.2" cy="682.2" r="5.1"/><circle cx="822.8" cy="677.6" r="5.1"/><circle cx="836.4" cy="673.1" r="5.1"/><circle cx="850" cy="668.7" r="5.1"/><circle cx="863.7" cy="664.5" r="5.1"/><circle cx="877.3" cy="660.3" r="5.1"/><circle cx="890.9" cy="656.3" r="5.1"/><circle cx="904.5" cy="652.4" r="5.1"/><circle cx="918.1" cy="649" r="5.1"/><circle cx="931.8" cy="645.9" r="5.1"/><circle cx="945.4" cy="642.9" r="5.1"/><circle cx="959" cy="640" r="5.1"/><circle cx="972.6" cy="637.1" r="5.1"/><circle cx="986.3" cy="634.3" r="5.1"/><circle cx="999.9" cy="631.5" r="5.1"/><circle cx="1013.5" cy="628.8" r="5.1"/>
</g>
<polyline points="577.6,735.3 591.2,719.4 604.8,709.1 618.5,701.4 632.1,695.6 645.7,690.5 659.3,685.5 673,680 686.6,674.5 700.2,669.4 713.8,665 727.4,661.1 741.1,657.5 754.7,654 768.3,650.7 781.9,647.5 795.5,644.5 809.2,641.4 822.8,638.2 836.4,634.9 850,631.8 863.7,628.8 877.3,626 890.9,623.2 904.5,620.5 918.1,617.5 931.8,614.4 945.4,611.3 959,608.3 972.6,605.5 986.3,602.8 999.9,600.1 1013.5,597.5" fill="none" stroke="#6e6e6e" stroke-width="3" stroke-linejoin="round" stroke-linecap="round"/>
<g fill="#fff" stroke="#6e6e6e" stroke-width="1.7">
<circle cx="577.6" cy="735.3" r="5.1"/><circle cx="591.2" cy="719.4" r="5.1"/><circle cx="604.8" cy="709.1" r="5.1"/><circle cx="618.5" cy="701.4" r="5.1"/><circle cx="632.1" cy="695.6" r="5.1"/><circle cx="645.7" cy="690.5" r="5.1"/><circle cx="659.3" cy="685.5" r="5.1"/><circle cx="673" cy="680" r="5.1"/><circle cx="686.6" cy="674.5" r="5.1"/><circle cx="700.2" cy="669.4" r="5.1"/><circle cx="713.8" cy="665" r="5.1"/><circle cx="727.4" cy="661.1" r="5.1"/><circle cx="741.1" cy="657.5" r="5.1"/><circle cx="754.7" cy="654" r="5.1"/><circle cx="768.3" cy="650.7" r="5.1"/><circle cx="781.9" cy="647.5" r="5.1"/><circle cx="795.5" cy="644.5" r="5.1"/><circle cx="809.2" cy="641.4" r="5.1"/><circle cx="822.8" cy="638.2" r="5.1"/><circle cx="836.4" cy="634.9" r="5.1"/><circle cx="850" cy="631.8" r="5.1"/><circle cx="863.7" cy="628.8" r="5.1"/><circle cx="877.3" cy="626" r="5.1"/><circle cx="890.9" cy="623.2" r="5.1"/><circle cx="904.5" cy="620.5" r="5.1"/><circle cx="918.1" cy="617.5" r="5.1"/><circle cx="931.8" cy="614.4" r="5.1"/><circle cx="945.4" cy="611.3" r="5.1"/><circle cx="959" cy="608.3" r="5.1"/><circle cx="972.6" cy="605.5" r="5.1"/><circle cx="986.3" cy="602.8" r="5.1"/><circle cx="999.9" cy="600.1" r="5.1"/><circle cx="1013.5" cy="597.5" r="5.1"/>
</g>
</g>
<rect x="577.6" y="513.5" width="435.9" height="352" fill="none" stroke="#000" stroke-width="3"/>
<path d="M603.24 865.5v6.6M654.52 865.5v6.6M705.81 865.5v6.6M757.09 865.5v6.6M808.37 865.5v6.6M859.65 865.5v6.6M910.94 865.5v6.6M962.22 865.5v6.6M1013.5 865.5v6.6M577.6 865.5v3.3M628.88 865.5v3.3M680.16 865.5v3.3M731.45 865.5v3.3M782.73 865.5v3.3M834.01 865.5v3.3M885.29 865.5v3.3M936.58 865.5v3.3M987.86 865.5v3.3" stroke="#000" stroke-width="2.6" fill="none"/>
<path d="M577.6 865.5h-6.6M577.6 821.5h-6.6M577.6 777.5h-6.6M577.6 733.5h-6.6M577.6 689.5h-6.6M577.6 645.5h-6.6M577.6 601.5h-6.6M577.6 557.5h-6.6M577.6 513.5h-6.6M577.6 843.5h-3.3M577.6 799.5h-3.3M577.6 755.5h-3.3M577.6 711.5h-3.3M577.6 667.5h-3.3M577.6 623.5h-3.3M577.6 579.5h-3.3M577.6 535.5h-3.3" stroke="#000" stroke-width="2.6" fill="none"/>
<text x="603.24" y="894.2" font-size="22" text-anchor="middle">2</text>
<text x="654.52" y="894.2" font-size="22" text-anchor="middle">4</text>
<text x="705.81" y="894.2" font-size="22" text-anchor="middle">6</text>
<text x="757.09" y="894.2" font-size="22" text-anchor="middle">8</text>
<text x="808.37" y="894.2" font-size="22" text-anchor="middle">10</text>
<text x="859.65" y="894.2" font-size="22" text-anchor="middle">12</text>
<text x="910.94" y="894.2" font-size="22" text-anchor="middle">14</text>
<text x="962.22" y="894.2" font-size="22" text-anchor="middle">16</text>
<text x="1013.5" y="894.2" font-size="22" text-anchor="middle">18</text>
<text x="564.8" y="871.7" font-size="22" text-anchor="end">0</text>
<text x="564.8" y="828.5" font-size="22" text-anchor="end">5</text>
<text x="564.8" y="784.5" font-size="22" text-anchor="end">10</text>
<text x="564.8" y="740.5" font-size="22" text-anchor="end">15</text>
<text x="564.8" y="696.5" font-size="22" text-anchor="end">20</text>
<text x="564.8" y="652.5" font-size="22" text-anchor="end">25</text>
<text x="564.8" y="608.5" font-size="22" text-anchor="end">30</text>
<text x="564.8" y="564.5" font-size="22" text-anchor="end">35</text>
<text x="564.8" y="520.5" font-size="22" text-anchor="end">40</text>
<text x="795.8" y="933.3" font-size="23" text-anchor="middle">Frequency (GHz)</text>
<text x="531.5" y="690" font-size="23" text-anchor="middle" transform="rotate(-90 531.5 690)">EMI SE (dB)</text>
<line x1="906.3" y1="529" x2="957.5" y2="529" stroke="#6e6e6e" stroke-width="3.1"/>
<g fill="#fff" stroke="#6e6e6e" stroke-width="1.7">
<circle cx="931.7" cy="529" r="5.1"/>
</g>
<text x="964.5" y="536.9" font-size="22.5">SE</text>
<line x1="906.3" y1="558.3" x2="957.5" y2="558.3" stroke="#d8352a" stroke-width="3.1"/>
<g fill="#fff" stroke="#d8352a" stroke-width="1.7">
<circle cx="931.7" cy="558.3" r="5.1"/>
</g>
<text x="964.5" y="566.2" font-size="22.5">SEr</text>
<line x1="906.3" y1="587.6" x2="957.5" y2="587.6" stroke="#1c6cab" stroke-width="3.1"/>
<g fill="#fff" stroke="#1c6cab" stroke-width="1.7">
<circle cx="931.7" cy="587.6" r="5.1"/>
</g>
<text x="964.5" y="595.5" font-size="22.5">SEa</text>
<text x="1041" y="24" font-size="42" text-anchor="middle">e</text>
<g fill="none" stroke="#1c6cab" stroke-width="2.2">
<circle cx="1185.6" cy="58.7" r="7.4"/><circle cx="1268.7" cy="118.7" r="7.4"/><circle cx="1331" cy="164" r="7.4"/><circle cx="1381.5" cy="206" r="7.4"/><circle cx="1424" cy="240" r="7.4"/><circle cx="1460" cy="293.5" r="7.4"/><circle cx="1527.5" cy="346" r="7.4"/>
</g>
<line x1="1187.2" y1="48.7" x2="1527.5" y2="339" stroke="#c9302a" stroke-width="3"/>
<rect x="1111.5" y="41.2" width="437.3" height="353.3" fill="none" stroke="#000" stroke-width="3"/>
<path d="M1243.7 394.5v6.6M1349.13 394.5v6.6M1423.93 394.5v6.6M1481.95 394.5v6.6M1529.35 394.5v6.6M1115.65 394.5v3.3M1138.27 394.5v3.3M1159.09 394.5v3.3M1178.36 394.5v3.3M1196.29 394.5v3.3M1213.07 394.5v3.3M1228.84 394.5v3.3M1257.76 394.5v3.3M1271.1 394.5v3.3M1283.78 394.5v3.3M1295.88 394.5v3.3M1307.43 394.5v3.3M1318.5 394.5v3.3M1329.12 394.5v3.3M1339.31 394.5v3.3M1358.58 394.5v3.3M1367.71 394.5v3.3M1376.52 394.5v3.3M1385.05 394.5v3.3M1393.3 394.5v3.3M1401.3 394.5v3.3M1409.06 394.5v3.3M1416.6 394.5v3.3M1431.05 394.5v3.3M1437.98 394.5v3.3M1444.74 394.5v3.3M1451.32 394.5v3.3M1457.74 394.5v3.3M1464.01 394.5v3.3M1470.13 394.5v3.3M1476.1 394.5v3.3M1487.66 394.5v3.3M1493.25 394.5v3.3M1498.73 394.5v3.3M1504.09 394.5v3.3M1509.34 394.5v3.3M1514.49 394.5v3.3M1519.54 394.5v3.3M1524.49 394.5v3.3M1534.12 394.5v3.3M1538.81 394.5v3.3M1543.41 394.5v3.3M1547.93 394.5v3.3" stroke="#000" stroke-width="2.6" fill="none"/>
<path d="M1111.5 186.5h-6.6M1111.5 394.5h-6.6M1111.5 41.11h-3.3M1111.5 61.27h-3.3M1111.5 87.26h-3.3M1111.5 123.89h-3.3M1111.5 196.02h-3.3M1111.5 206.66h-3.3M1111.5 218.72h-3.3M1111.5 232.64h-3.3M1111.5 249.11h-3.3M1111.5 269.27h-3.3M1111.5 295.26h-3.3M1111.5 331.89h-3.3" stroke="#000" stroke-width="2.6" fill="none"/>
<text x="1243.7" y="424.2" font-size="23" text-anchor="middle">100</text>
<text x="1349.13" y="424.2" font-size="23" text-anchor="middle">150</text>
<text x="1423.93" y="424.2" font-size="23" text-anchor="middle">200</text>
<text x="1481.95" y="424.2" font-size="23" text-anchor="middle">250</text>
<text x="1529.35" y="424.2" font-size="23" text-anchor="middle">300</text>
<text x="1098.6" y="49.11" font-size="22" text-anchor="end">500</text>
<text x="1098.6" y="193.9" font-size="22" text-anchor="end">100</text>
<text x="1098.6" y="256.51" font-size="22" text-anchor="end">50</text>
<text x="1098.6" y="401.1" font-size="22" text-anchor="end">10</text>
<text x="1329" y="463.3" font-size="23.4" text-anchor="middle">Temperature (K)</text>
<text transform="rotate(-90 1047.8 255.5)" xml:space="preserve"><tspan x="1047.8" y="255.5" font-size="28">τ</tspan><tspan x="1060.3" y="260.5" font-size="19">φ</tspan><tspan x="1073.89" y="255.5" font-size="23"> (ps)</tspan></text>
<g fill="none" stroke="#1c6cab" stroke-width="2.2">
<circle cx="1374" cy="57.5" r="7.4"/>
</g>
<text x="1407.3" y="66" font-size="23.2">Experiments</text>
<line x1="1350" y1="90" x2="1399" y2="90" stroke="#c9302a" stroke-width="3"/>
<text><tspan x="1406.3" y="98.5" font-size="23" font-style="italic">T</tspan><tspan x="1422.5" y="89.5" font-size="16">-2</tspan><tspan x="1435.91" y="98.5" font-size="23"> Linear Fit</tspan></text>
<text x="1055" y="506" font-size="42" text-anchor="middle">f</text>
<g fill="none" stroke="#cf5a2e" stroke-width="2">
<circle cx="1181.1" cy="536.2" r="7.5"/><circle cx="1265.2" cy="609.7" r="7.5"/><circle cx="1328.8" cy="677" r="7.5"/><circle cx="1380.1" cy="730" r="7.5"/><circle cx="1423" cy="758.5" r="7.5"/><circle cx="1459.9" cy="829.5" r="7.5"/><circle cx="1528.3" cy="831" r="7.5"/>
</g>
<rect x="1105.7" y="509.5" width="444.3" height="359.8" fill="none" stroke="#000" stroke-width="3"/>
<path d="M1240 869.3v6.6M1347.06 869.3v6.6M1423.03 869.3v6.6M1481.95 869.3v6.6M1530.09 869.3v6.6M1109.96 869.3v3.3M1132.94 869.3v3.3M1154.07 869.3v3.3M1173.64 869.3v3.3M1191.86 869.3v3.3M1208.9 869.3v3.3M1224.91 869.3v3.3M1254.28 869.3v3.3M1267.82 869.3v3.3M1280.7 869.3v3.3M1292.99 869.3v3.3M1304.72 869.3v3.3M1315.96 869.3v3.3M1326.74 869.3v3.3M1337.1 869.3v3.3M1356.67 869.3v3.3M1365.93 869.3v3.3M1374.88 869.3v3.3M1383.54 869.3v3.3M1391.93 869.3v3.3M1400.05 869.3v3.3M1407.93 869.3v3.3M1415.59 869.3v3.3M1430.26 869.3v3.3M1437.3 869.3v3.3M1444.16 869.3v3.3M1450.85 869.3v3.3M1457.37 869.3v3.3M1463.73 869.3v3.3M1469.94 869.3v3.3M1476.01 869.3v3.3M1487.75 869.3v3.3M1493.43 869.3v3.3M1498.99 869.3v3.3M1504.43 869.3v3.3M1509.77 869.3v3.3M1515 869.3v3.3M1520.12 869.3v3.3M1525.15 869.3v3.3M1534.93 869.3v3.3M1539.69 869.3v3.3M1544.37 869.3v3.3M1548.96 869.3v3.3" stroke="#000" stroke-width="2.6" fill="none"/>
<path d="M1105.7 869.5h-6.6M1105.7 824.5h-6.6M1105.7 779.5h-6.6M1105.7 734.5h-6.6M1105.7 689.5h-6.6M1105.7 644.5h-6.6M1105.7 599.5h-6.6M1105.7 554.5h-6.6M1105.7 509.5h-6.6M1105.7 847h-3.3M1105.7 802h-3.3M1105.7 757h-3.3M1105.7 712h-3.3M1105.7 667h-3.3M1105.7 622h-3.3M1105.7 577h-3.3M1105.7 532h-3.3" stroke="#000" stroke-width="2.6" fill="none"/>
<text x="1240" y="898.6" font-size="23" text-anchor="middle">100</text>
<text x="1347.06" y="898.6" font-size="23" text-anchor="middle">150</text>
<text x="1423.03" y="898.6" font-size="23" text-anchor="middle">200</text>
<text x="1481.95" y="898.6" font-size="23" text-anchor="middle">250</text>
<text x="1530.09" y="898.6" font-size="23" text-anchor="middle">300</text>
<text x="1093" y="877.3" font-size="22.3" text-anchor="end">6</text>
<text x="1093" y="832.3" font-size="22.3" text-anchor="end">7</text>
<text x="1093" y="787.3" font-size="22.3" text-anchor="end">8</text>
<text x="1093" y="742.3" font-size="22.3" text-anchor="end">9</text>
<text x="1093" y="697.3" font-size="22.3" text-anchor="end">10</text>
<text x="1093" y="652.3" font-size="22.3" text-anchor="end">11</text>
<text x="1093" y="607.3" font-size="22.3" text-anchor="end">12</text>
<text x="1093" y="562.3" font-size="22.3" text-anchor="end">13</text>
<text x="1093" y="517.3" font-size="22.3" text-anchor="end">14</text>
<text x="1327.5" y="938.3" font-size="23.6" text-anchor="middle">Temperature (K)</text>
<text transform="rotate(-90 1051 732)" xml:space="preserve"><tspan x="1051" y="732" font-size="24">L</tspan><tspan x="1065.66" y="737" font-size="20">φ</tspan><tspan x="1079.97" y="732" font-size="24"> (nm)</tspan></text>
<text x="1567" y="27" font-size="42" text-anchor="middle">g</text>
<g fill="#fff" stroke="#1f74b0" stroke-width="1.4">
<path d="M1667.4 352.8V375.7M1664.1 352.8h6.6M1664.1 375.7h6.6"/><circle cx="1667.4" cy="364.2" r="6.2"/><path d="M1673 336.6V361.3M1669.7 336.6h6.6M1669.7 361.3h6.6"/><circle cx="1673" cy="348.9" r="6.2"/><path d="M1678.5 323.7V349.8M1675.2 323.7h6.6M1675.2 349.8h6.6"/><circle cx="1678.5" cy="336.7" r="6.2"/><path d="M1684.1 312.1V339.4M1680.8 312.1h6.6M1680.8 339.4h6.6"/><circle cx="1684.1" cy="325.8" r="6.2"/><path d="M1689.7 301.5V329.9M1686.4 301.5h6.6M1686.4 329.9h6.6"/><circle cx="1689.7" cy="315.7" r="6.2"/><path d="M1695.3 291.7V321.1M1692 291.7h6.6M1692 321.1h6.6"/><circle cx="1695.3" cy="306.4" r="6.2"/><path d="M1700.9 282.3V312.7M1697.6 282.3h6.6M1697.6 312.7h6.6"/><circle cx="1700.9" cy="297.5" r="6.2"/><path d="M1706.5 275.8V306.9M1703.2 275.8h6.6M1703.2 306.9h6.6"/><circle cx="1706.5" cy="291.3" r="6.2"/><path d="M1712 269.4V301.2M1708.7 269.4h6.6M1708.7 301.2h6.6"/><circle cx="1712" cy="285.3" r="6.2"/><path d="M1717.6 263.1V295.6M1714.3 263.1h6.6M1714.3 295.6h6.6"/><circle cx="1717.6" cy="279.4" r="6.2"/><path d="M1723.2 256.8V290M1719.9 256.8h6.6M1719.9 290h6.6"/><circle cx="1723.2" cy="273.4" r="6.2"/><path d="M1728.8 250.3V284.1M1725.5 250.3h6.6M1725.5 284.1h6.6"/><circle cx="1728.8" cy="267.2" r="6.2"/><path d="M1734.4 243.4V278M1731.1 243.4h6.6M1731.1 278h6.6"/><circle cx="1734.4" cy="260.7" r="6.2"/><path d="M1740 236.9V272.1M1736.7 236.9h6.6M1736.7 272.1h6.6"/><circle cx="1740" cy="254.5" r="6.2"/><path d="M1745.5 230.8V266.7M1742.2 230.8h6.6M1742.2 266.7h6.6"/><circle cx="1745.5" cy="248.8" r="6.2"/><path d="M1751.1 224.5V261.1M1747.8 224.5h6.6M1747.8 261.1h6.6"/><circle cx="1751.1" cy="242.8" r="6.2"/><path d="M1756.7 218.4V255.7M1753.4 218.4h6.6M1753.4 255.7h6.6"/><circle cx="1756.7" cy="237" r="6.2"/><path d="M1762.3 212.4V250.2M1759 212.4h6.6M1759 250.2h6.6"/><circle cx="1762.3" cy="231.3" r="6.2"/><path d="M1767.9 206.6V245.1M1764.6 206.6h6.6M1764.6 245.1h6.6"/><circle cx="1767.9" cy="225.8" r="6.2"/><path d="M1773.5 200.7V239.9M1770.2 200.7h6.6M1770.2 239.9h6.6"/><circle cx="1773.5" cy="220.3" r="6.2"/><path d="M1779 194.7V234.5M1775.7 194.7h6.6M1775.7 234.5h6.6"/><circle cx="1779" cy="214.6" r="6.2"/><path d="M1784.6 189.4V229.7M1781.3 189.4h6.6M1781.3 229.7h6.6"/><circle cx="1784.6" cy="209.5" r="6.2"/><path d="M1790.2 183.8V224.7M1786.9 183.8h6.6M1786.9 224.7h6.6"/><circle cx="1790.2" cy="204.3" r="6.2"/><path d="M1795.8 178.5V220M1792.5 178.5h6.6M1792.5 220h6.6"/><circle cx="1795.8" cy="199.3" r="6.2"/><path d="M1801.4 173.7V215.7M1798.1 173.7h6.6M1798.1 215.7h6.6"/><circle cx="1801.4" cy="194.7" r="6.2"/><path d="M1807 168.9V211.4M1803.7 168.9h6.6M1803.7 211.4h6.6"/><circle cx="1807" cy="190.2" r="6.2"/><path d="M1812.5 164V207M1809.2 164h6.6M1809.2 207h6.6"/><circle cx="1812.5" cy="185.5" r="6.2"/><path d="M1818.1 158.9V202.5M1814.8 158.9h6.6M1814.8 202.5h6.6"/><circle cx="1818.1" cy="180.7" r="6.2"/><path d="M1823.7 153.8V198M1820.4 153.8h6.6M1820.4 198h6.6"/><circle cx="1823.7" cy="175.9" r="6.2"/><path d="M1829.3 148.8V193.5M1826 148.8h6.6M1826 193.5h6.6"/><circle cx="1829.3" cy="171.1" r="6.2"/><path d="M1834.9 143.9V189.1M1831.6 143.9h6.6M1831.6 189.1h6.6"/><circle cx="1834.9" cy="166.5" r="6.2"/><path d="M1840.5 139.1V184.8M1837.2 139.1h6.6M1837.2 184.8h6.6"/><circle cx="1840.5" cy="162" r="6.2"/><path d="M1846 134.4V180.6M1842.7 134.4h6.6M1842.7 180.6h6.6"/><circle cx="1846" cy="157.5" r="6.2"/><path d="M1851.6 130V176.7M1848.3 130h6.6M1848.3 176.7h6.6"/><circle cx="1851.6" cy="153.4" r="6.2"/><path d="M1857.2 126.1V173.2M1853.9 126.1h6.6M1853.9 173.2h6.6"/><circle cx="1857.2" cy="149.7" r="6.2"/><path d="M1862.8 122.5V169.9M1859.5 122.5h6.6M1859.5 169.9h6.6"/><circle cx="1862.8" cy="146.2" r="6.2"/><path d="M1868.4 118.7V166.5M1865.1 118.7h6.6M1865.1 166.5h6.6"/><circle cx="1868.4" cy="142.6" r="6.2"/><path d="M1874 114.8V163M1870.7 114.8h6.6M1870.7 163h6.6"/><circle cx="1874" cy="138.9" r="6.2"/><path d="M1879.5 111.1V159.8M1876.2 111.1h6.6M1876.2 159.8h6.6"/><circle cx="1879.5" cy="135.4" r="6.2"/><path d="M1885.1 107.3V156.4M1881.8 107.3h6.6M1881.8 156.4h6.6"/><circle cx="1885.1" cy="131.8" r="6.2"/><path d="M1890.7 103.9V153.3M1887.4 103.9h6.6M1887.4 153.3h6.6"/><circle cx="1890.7" cy="128.6" r="6.2"/><path d="M1896.3 100.5V150.3M1893 100.5h6.6M1893 150.3h6.6"/><circle cx="1896.3" cy="125.4" r="6.2"/><path d="M1901.9 97.3V147.4M1898.6 97.3h6.6M1898.6 147.4h6.6"/><circle cx="1901.9" cy="122.4" r="6.2"/><path d="M1907.5 94.2V144.6M1904.2 94.2h6.6M1904.2 144.6h6.6"/><circle cx="1907.5" cy="119.4" r="6.2"/><path d="M1913 91.1V141.9M1909.7 91.1h6.6M1909.7 141.9h6.6"/><circle cx="1913" cy="116.5" r="6.2"/><path d="M1918.6 88.6V139.7M1915.3 88.6h6.6M1915.3 139.7h6.6"/><circle cx="1918.6" cy="114.1" r="6.2"/><path d="M1924.2 86.1V137.4M1920.9 86.1h6.6M1920.9 137.4h6.6"/><circle cx="1924.2" cy="111.8" r="6.2"/><path d="M1929.8 83.6V135.2M1926.5 83.6h6.6M1926.5 135.2h6.6"/><circle cx="1929.8" cy="109.4" r="6.2"/><path d="M1935.4 81.3V133.1M1932.1 81.3h6.6M1932.1 133.1h6.6"/><circle cx="1935.4" cy="107.2" r="6.2"/><path d="M1941 79.1V131.2M1937.7 79.1h6.6M1937.7 131.2h6.6"/><circle cx="1941" cy="105.2" r="6.2"/><path d="M1946.5 77V129.3M1943.2 77h6.6M1943.2 129.3h6.6"/><circle cx="1946.5" cy="103.1" r="6.2"/><path d="M1952.1 75.5V128M1948.8 75.5h6.6M1948.8 128h6.6"/><circle cx="1952.1" cy="101.7" r="6.2"/><path d="M1957.7 73.7V126.4M1954.4 73.7h6.6M1954.4 126.4h6.6"/><circle cx="1957.7" cy="100" r="6.2"/><path d="M1963.3 72.4V125.2M1960 72.4h6.6M1960 125.2h6.6"/><circle cx="1963.3" cy="98.8" r="6.2"/><path d="M1968.9 70.8V123.8M1965.6 70.8h6.6M1965.6 123.8h6.6"/><circle cx="1968.9" cy="97.3" r="6.2"/><path d="M1974.5 69.1V122.2M1971.2 69.1h6.6M1971.2 122.2h6.6"/><circle cx="1974.5" cy="95.6" r="6.2"/><path d="M1980 66.6V120.1M1976.7 66.6h6.6M1976.7 120.1h6.6"/><circle cx="1980" cy="93.3" r="6.2"/><path d="M1985.6 63.9V117.6M1982.3 63.9h6.6M1982.3 117.6h6.6"/><circle cx="1985.6" cy="90.8" r="6.2"/><path d="M1991.2 61.2V115.2M1987.9 61.2h6.6M1987.9 115.2h6.6"/><circle cx="1991.2" cy="88.2" r="6.2"/><path d="M1996.8 60.6V114.6M1993.5 60.6h6.6M1993.5 114.6h6.6"/><circle cx="1996.8" cy="87.6" r="6.2"/><path d="M2002.4 60.7V114.8M1999.1 60.7h6.6M1999.1 114.8h6.6"/><circle cx="2002.4" cy="87.7" r="6.2"/><path d="M2008 61.6V115.5M2004.7 61.6h6.6M2004.7 115.5h6.6"/><circle cx="2008" cy="88.6" r="6.2"/><path d="M2013.5 63V116.8M2010.2 63h6.6M2010.2 116.8h6.6"/><circle cx="2013.5" cy="89.9" r="6.2"/><path d="M2019.1 65V118.6M2015.8 65h6.6M2015.8 118.6h6.6"/><circle cx="2019.1" cy="91.8" r="6.2"/><path d="M2024.7 66.9V120.3M2021.4 66.9h6.6M2021.4 120.3h6.6"/><circle cx="2024.7" cy="93.6" r="6.2"/><path d="M2030.3 69.3V122.4M2027 69.3h6.6M2027 122.4h6.6"/><circle cx="2030.3" cy="95.9" r="6.2"/><path d="M2035.9 71.6V124.5M2032.6 71.6h6.6M2032.6 124.5h6.6"/><circle cx="2035.9" cy="98" r="6.2"/><path d="M2041.5 74.5V127M2038.2 74.5h6.6M2038.2 127h6.6"/><circle cx="2041.5" cy="100.8" r="6.2"/><path d="M2047 77.2V129.5M2043.7 77.2h6.6M2043.7 129.5h6.6"/><circle cx="2047" cy="103.4" r="6.2"/><path d="M2052.6 79.4V131.4M2049.3 79.4h6.6M2049.3 131.4h6.6"/><circle cx="2052.6" cy="105.4" r="6.2"/><path d="M2058.2 82.3V134M2054.9 82.3h6.6M2054.9 134h6.6"/><circle cx="2058.2" cy="108.2" r="6.2"/><path d="M2063.8 84.6V136.1M2060.5 84.6h6.6M2060.5 136.1h6.6"/><circle cx="2063.8" cy="110.3" r="6.2"/><path d="M2069.4 87.3V138.6M2066.1 87.3h6.6M2066.1 138.6h6.6"/><circle cx="2069.4" cy="113" r="6.2"/><path d="M2075 89.2V140.2M2071.7 89.2h6.6M2071.7 140.2h6.6"/><circle cx="2075" cy="114.7" r="6.2"/>
</g>
<rect x="1656.4" y="41.7" width="445.6" height="359" fill="none" stroke="#000" stroke-width="3"/>
<path d="M1656 400.7v6.6M1711.72 400.7v6.6M1767.44 400.7v6.6M1823.16 400.7v6.6M1878.88 400.7v6.6M1934.6 400.7v6.6M1990.32 400.7v6.6M2046.04 400.7v6.6M2101.76 400.7v6.6M1683.86 400.7v3.3M1739.58 400.7v3.3M1795.3 400.7v3.3M1851.02 400.7v3.3M1906.74 400.7v3.3M1962.46 400.7v3.3M2018.18 400.7v3.3M2073.9 400.7v3.3" stroke="#000" stroke-width="2.6" fill="none"/>
<path d="M1656.4 376.44h-6.6M1656.4 328.62h-6.6M1656.4 280.8h-6.6M1656.4 232.98h-6.6M1656.4 185.16h-6.6M1656.4 137.34h-6.6M1656.4 89.52h-6.6M1656.4 41.7h-6.6M1656.4 400.35h-3.3M1656.4 352.53h-3.3M1656.4 304.71h-3.3M1656.4 256.89h-3.3M1656.4 209.07h-3.3M1656.4 161.25h-3.3M1656.4 113.43h-3.3M1656.4 65.61h-3.3" stroke="#000" stroke-width="2.6" fill="none"/>
<text x="1656" y="431.2" font-size="23.3" text-anchor="middle">0</text>
<text x="1711.72" y="431.2" font-size="23.3" text-anchor="middle">50</text>
<text x="1767.44" y="431.2" font-size="23.3" text-anchor="middle">100</text>
<text x="1823.16" y="431.2" font-size="23.3" text-anchor="middle">150</text>
<text x="1878.88" y="431.2" font-size="23.3" text-anchor="middle">200</text>
<text x="1934.6" y="431.2" font-size="23.3" text-anchor="middle">250</text>
<text x="1990.32" y="431.2" font-size="23.3" text-anchor="middle">300</text>
<text x="2046.04" y="431.2" font-size="23.3" text-anchor="middle">350</text>
<text x="2101.76" y="431.2" font-size="23.3" text-anchor="middle">400</text>
<text x="1642.7" y="384.34" font-size="23" text-anchor="end">800</text>
<text x="1642.7" y="336.52" font-size="23" text-anchor="end">1000</text>
<text x="1642.7" y="288.7" font-size="23" text-anchor="end">1200</text>
<text x="1642.7" y="240.88" font-size="23" text-anchor="end">1400</text>
<text x="1642.7" y="193.06" font-size="23" text-anchor="end">1600</text>
<text x="1642.7" y="145.24" font-size="23" text-anchor="end">1800</text>
<text x="1642.7" y="97.42" font-size="23" text-anchor="end">2000</text>
<text x="1642.7" y="49.6" font-size="23" text-anchor="end">2200</text>
<text x="1878" y="472.7" font-size="25.6" text-anchor="middle">Temperature (K)</text>
<text transform="rotate(-90 1583.2 283.5)" xml:space="preserve"><tspan x="1583.2" y="283.5" font-size="25">σ (S cm</tspan><tspan x="1675.33" y="272" font-size="24">-1</tspan><tspan x="1696.67" y="283.5" font-size="25">)</tspan></text>
<text x="1579" y="506.5" font-size="42" text-anchor="middle">h</text>
<g fill="#fff" stroke="#72b856" stroke-width="1.5">
<circle cx="1678.5" cy="704" r="6.4"/><circle cx="1727.6" cy="642.4" r="6.4"/><circle cx="1758.8" cy="623.9" r="6.4"/><circle cx="1783.6" cy="613.5" r="6.4"/><circle cx="1804.2" cy="604.9" r="6.4"/><circle cx="1821.4" cy="601.9" r="6.4"/><circle cx="1836.4" cy="603.5" r="6.4"/><circle cx="1861.2" cy="601.9" r="6.4"/><circle cx="1872.3" cy="594.5" r="6.4"/><circle cx="1882.3" cy="578.3" r="6.4"/><circle cx="1890.9" cy="574.1" r="6.4"/><circle cx="1899.6" cy="570.6" r="6.4"/><circle cx="1907.1" cy="564.4" r="6.4"/><circle cx="1914.7" cy="560.7" r="6.4"/><circle cx="1922.1" cy="556.7" r="6.4"/><circle cx="1927.9" cy="552.1" r="6.4"/><circle cx="1934.4" cy="548.2" r="6.4"/><circle cx="1940.6" cy="544" r="6.4"/><circle cx="1945.3" cy="541.7" r="6.4"/><circle cx="1951" cy="542.4" r="6.4"/><circle cx="1955.7" cy="545.2" r="6.4"/><circle cx="1961.5" cy="538.8" r="6.4"/><circle cx="1967.2" cy="534.7" r="6.4"/><circle cx="1973" cy="531.3" r="6.4"/><circle cx="1977.6" cy="532.4" r="6.4"/><circle cx="1981" cy="537" r="6.4"/><circle cx="1987.5" cy="533.6" r="6.4"/><circle cx="1992.6" cy="538.2" r="6.4"/><circle cx="1995" cy="540.5" r="6.4"/><circle cx="1998.4" cy="532.4" r="6.4"/><circle cx="2003" cy="533.6" r="6.4"/><circle cx="2006.5" cy="541.7" r="6.4"/><circle cx="2011.9" cy="545.2" r="6.4"/><circle cx="2015.8" cy="547.5" r="6.4"/><circle cx="2020.4" cy="549.8" r="6.4"/><circle cx="2025" cy="555.6" r="6.4"/><circle cx="2028.5" cy="557.9" r="6.4"/><circle cx="2030.9" cy="567.2" r="6.4"/><circle cx="2033.2" cy="574.1" r="6.4"/><circle cx="2035.5" cy="579.9" r="6.4"/><circle cx="2037.8" cy="586.8" r="6.4"/><circle cx="2040.1" cy="595" r="6.4"/><circle cx="2042.4" cy="605.4" r="6.4"/><circle cx="2045.4" cy="618.1" r="6.4"/><circle cx="2048.2" cy="636.6" r="6.4"/><circle cx="2050.1" cy="648.2" r="6.4"/><circle cx="2051.7" cy="661" r="6.4"/><circle cx="2053.5" cy="659.8" r="6.4"/><circle cx="2056.3" cy="633.2" r="6.4"/><circle cx="2058.2" cy="601.4" r="6.4"/><circle cx="2059.8" cy="573" r="6.4"/><circle cx="2062.1" cy="567.2" r="6.4"/><circle cx="2063.7" cy="636.6" r="6.4"/><circle cx="2022.6" cy="552.5" r="6.4"/><circle cx="2027" cy="556.5" r="6.4"/><circle cx="2032" cy="570.5" r="6.4"/><circle cx="2034.4" cy="577" r="6.4"/><circle cx="2039" cy="590.8" r="6.4"/><circle cx="2044" cy="611.5" r="6.4"/>
</g>
<line x1="1682.4" y1="661.4" x2="1967.2" y2="540.5" stroke="#000" stroke-width="3"/>
<rect x="1653" y="510" width="450.8" height="362.8" fill="none" stroke="#000" stroke-width="3"/>
<path d="M1678.5 872.8v6.6M1939.5 872.8v6.6M1666.56 872.8v3.3M1757.07 872.8v3.3M1803.03 872.8v3.3M1835.64 872.8v3.3M1860.93 872.8v3.3M1881.6 872.8v3.3M1899.07 872.8v3.3M1914.21 872.8v3.3M1927.56 872.8v3.3M2018.07 872.8v3.3M2064.03 872.8v3.3M2096.64 872.8v3.3" stroke="#000" stroke-width="2.6" fill="none"/>
<path d="M1653 510h-6.6M1653 560.2h-6.6M1653 630.95h-6.6M1653 751.91h-6.6M1653 854.48h-3M1653 822.66h-3M1653 795.76h-3M1653 772.46h-3M1653 733.52h-3M1653 716.89h-3M1653 701.71h-3M1653 687.74h-3M1653 674.81h-3M1653 662.77h-3M1653 651.51h-3M1653 640.93h-3M1653 621.52h-3M1653 612.57h-3M1653 604.05h-3M1653 595.94h-3M1653 588.18h-3M1653 580.75h-3M1653 573.63h-3M1653 566.79h-3M1653 553.85h-3M1653 547.73h-3M1653 541.82h-3M1653 536.09h-3M1653 530.55h-3M1653 525.18h-3M1653 519.97h-3M1653 514.92h-3" stroke="#000" stroke-width="2.6" fill="none"/>
<text x="1678.5" y="903.7" font-size="23.2" text-anchor="middle">10</text>
<text x="1757.07" y="903.7" font-size="23.2" text-anchor="middle">20</text>
<text x="1803.03" y="903.7" font-size="23.2" text-anchor="middle">30</text>
<text x="1860.93" y="903.7" font-size="23.2" text-anchor="middle">50</text>
<text x="1939.5" y="903.7" font-size="23.2" text-anchor="middle">100</text>
<text x="2018.07" y="903.7" font-size="23.2" text-anchor="middle">200</text>
<text x="2064.03" y="903.7" font-size="23.2" text-anchor="middle">300</text>
<text x="1639.5" y="517.8" font-size="22.3" text-anchor="end">0.4</text>
<text x="1639.5" y="568" font-size="22.3" text-anchor="end">0.3</text>
<text x="1639.5" y="638.75" font-size="22.3" text-anchor="end">0.2</text>
<text x="1639.5" y="759.71" font-size="22.3" text-anchor="end">0.1</text>
<text x="1877.3" y="942.3" font-size="23.8" text-anchor="middle">Temperature (K)</text>
<text transform="rotate(-90 1600.2 799.8)" xml:space="preserve"><tspan x="1600.2" y="799.8" font-size="26" font-style="italic">W</tspan><tspan x="1624.74" y="799.8" font-size="26"> = </tspan><tspan x="1654.37" y="799.8" font-size="26" font-style="italic">T</tspan><tspan x="1670.25" y="799.8" font-size="26">[d(lnσ)/d(</tspan><tspan x="1784.77" y="799.8" font-size="26" font-style="italic">T</tspan><tspan x="1800.65" y="799.8" font-size="26">)]</tspan></text>
</svg>
</body></html>
